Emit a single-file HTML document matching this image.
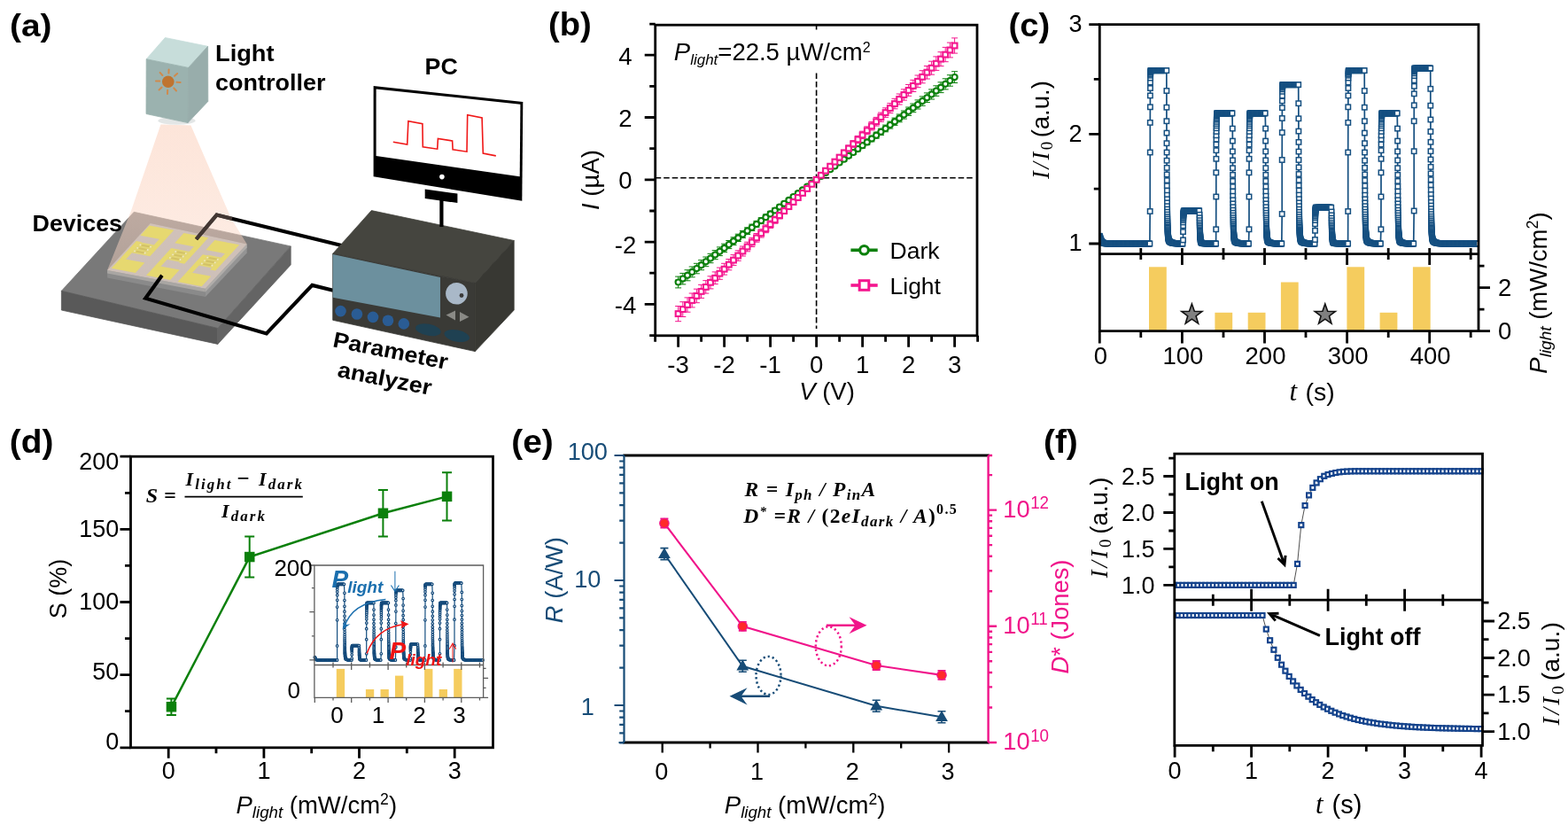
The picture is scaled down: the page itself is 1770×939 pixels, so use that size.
<!DOCTYPE html>
<html lang="en">
<head>
<meta charset="utf-8">
<title>Photodetector figure</title>
<style>
html,body{margin:0;padding:0;background:#fff;}
body{width:1770px;height:939px;overflow:hidden;}
svg{display:block;font-family:'Liberation Sans', sans-serif;}
</style>
</head>
<body>
<svg width="1770" height="939" viewBox="0 0 1770 939">
<defs>
<linearGradient id="cone" x1="0" y1="140" x2="0" y2="326" gradientUnits="userSpaceOnUse"><stop offset="0" stop-color="#fbd3c0" stop-opacity="0.42"/><stop offset="1" stop-color="#fbd3c0" stop-opacity="0.25"/></linearGradient>
<linearGradient id="cone2" x1="0" y1="140" x2="0" y2="326" gradientUnits="userSpaceOnUse"><stop offset="0" stop-color="#fcd9c8" stop-opacity="0.4"/><stop offset="1" stop-color="#fcd9c8" stop-opacity="0.2"/></linearGradient>
<marker id="sqs" markerWidth="8" markerHeight="8" refX="4" refY="4" markerUnits="userSpaceOnUse"><rect x="1.3" y="1.3" width="5.4" height="5.4" fill="#fff" stroke="#154f80" stroke-width="1.5"/></marker>
<clipPath id="cc"><rect x="1241.3" y="20" width="428.5" height="275"/></clipPath>
<marker id="cid" markerWidth="5" markerHeight="5" refX="2.5" refY="2.5" markerUnits="userSpaceOnUse"><circle cx="2.5" cy="2.5" r="1.3" fill="#fff" stroke="#0f4678" stroke-width="1.15"/></marker>
<marker id="sqf" markerWidth="8" markerHeight="8" refX="4" refY="4" markerUnits="userSpaceOnUse"><rect x="1.5" y="1.5" width="5" height="5" fill="#fff" stroke="#14438c" stroke-width="2.2"/></marker>
</defs>
<rect width="1770" height="939" fill="#fff"/>
<g id="pa">
<polygon points="69.4,328.3 151.2,239.3 328.2,277.9 245.8,370.5" fill="#797979" stroke="#797979" stroke-width="0.8"/>
<polygon points="69.4,328.3 245.8,370.5 245.8,388.4 69.4,350" fill="#595959" stroke="#595959" stroke-width="0.8"/>
<polygon points="245.8,370.5 328.2,277.9 328.2,298.9 245.8,388.4" fill="#646464" stroke="#646464" stroke-width="0.8"/>
<polygon points="121.1,305 231.8,325.8 231.8,335 121.1,313.5" fill="#8a8a8a"/>
<polygon points="231.8,325.8 278.7,275.4 278.7,285.5 231.8,335" fill="#949494"/>
<polygon points="121.1,305 231.8,325.8 231.8,329.5 121.1,308.5" fill="#a9a6a3"/>
<polygon points="231.8,325.8 278.7,275.4 278.7,279.5 231.8,329.5" fill="#b0adaa"/>
<polygon points="121.1,305 169.7,252 278.7,275.4 231.8,325.8" fill="#bdb9b6"/>
<polygon points="181.5,140.5 215.4,141.5 261,246.7 278.7,275.4 231.8,325.8 121.1,305 148,238" fill="url(#cone)"/>
<polygon points="181.5,140.5 215.4,141.5 261,246.7 278.7,275.4 169.7,252 121.1,305 148,238" fill="url(#cone2)"/>
<polygon points="158.4,265.7 186.1,270.9 196.3,259.8 168.6,254.6" fill="#e6d870"/>
<polygon points="125.7,302.8 152.9,307.9 163.3,296.5 136.2,291.4" fill="#e6d870"/>
<polygon points="163.2,288.1 169.3,289.2 186.3,270.7 180.2,269.5" fill="#e6d870"/>
<polygon points="135.9,291.6 142,292.8 160,273.2 153.9,272" fill="#e6d870"/>
<polygon points="148.3,285.3 163.8,288.2 174.5,276.5 159,273.6" fill="#e2d577"/>
<polygon points="152.8,284.6 161.7,286.2 163.4,284.4 154.5,282.7" fill="#d3c266"/>
<circle cx="152" cy="283.3" r="0.9" fill="#efe9c8"/>
<circle cx="163.7" cy="285.5" r="0.9" fill="#efe9c8"/>
<polygon points="156,281.1 164.8,282.8 166.5,280.9 157.7,279.3" fill="#d3c266"/>
<circle cx="155.2" cy="279.8" r="0.9" fill="#efe9c8"/>
<circle cx="166.8" cy="282" r="0.9" fill="#efe9c8"/>
<polygon points="159.1,277.7 168,279.3 169.7,277.5 160.8,275.8" fill="#d3c266"/>
<circle cx="158.4" cy="276.4" r="0.9" fill="#efe9c8"/>
<circle cx="170" cy="278.6" r="0.9" fill="#efe9c8"/>
<polygon points="197.3,274.3 225,279.5 235.2,268.3 207.5,263.1" fill="#e6d870"/>
<polygon points="165.1,310.8 192.2,315.9 202.7,304.5 175.6,299.4" fill="#e6d870"/>
<polygon points="202.1,296.6 208.2,297.8 225.2,279.2 219.1,278.1" fill="#e6d870"/>
<polygon points="175.3,299.7 181.4,300.8 199.4,281.2 193.3,280" fill="#e6d870"/>
<polygon points="188.1,292.7 203.6,295.7 214.3,284 198.8,281.1" fill="#e2d577"/>
<polygon points="192.7,292 201.5,293.7 203.2,291.9 194.4,290.2" fill="#d3c266"/>
<circle cx="191.9" cy="290.8" r="0.9" fill="#efe9c8"/>
<circle cx="203.5" cy="293" r="0.9" fill="#efe9c8"/>
<polygon points="195.8,288.6 204.7,290.3 206.4,288.4 197.5,286.7" fill="#d3c266"/>
<circle cx="195.1" cy="287.3" r="0.9" fill="#efe9c8"/>
<circle cx="206.7" cy="289.5" r="0.9" fill="#efe9c8"/>
<polygon points="199,285.2 207.9,286.8 209.6,285 200.7,283.3" fill="#d3c266"/>
<circle cx="198.2" cy="283.9" r="0.9" fill="#efe9c8"/>
<circle cx="209.8" cy="286.1" r="0.9" fill="#efe9c8"/>
<polygon points="232.3,282.1 260,287.3 270.2,276.2 242.5,271" fill="#e6d870"/>
<polygon points="200.6,318.1 227.7,323.2 238.2,311.8 211.1,306.7" fill="#e6d870"/>
<polygon points="237.1,304.4 243.2,305.6 260.2,287 254.1,285.9" fill="#e6d870"/>
<polygon points="210.8,306.9 216.9,308.1 234.9,288.5 228.8,287.3" fill="#e6d870"/>
<polygon points="224.1,299.5 239.6,302.4 250.3,290.8 234.8,287.8" fill="#e2d577"/>
<polygon points="228.7,298.8 237.5,300.5 239.2,298.6 230.4,296.9" fill="#d3c266"/>
<circle cx="227.9" cy="297.5" r="0.9" fill="#efe9c8"/>
<circle cx="239.5" cy="299.7" r="0.9" fill="#efe9c8"/>
<polygon points="231.8,295.4 240.7,297 242.4,295.2 233.5,293.5" fill="#d3c266"/>
<circle cx="231" cy="294.1" r="0.9" fill="#efe9c8"/>
<circle cx="242.7" cy="296.3" r="0.9" fill="#efe9c8"/>
<polygon points="235,291.9 243.8,293.6 245.5,291.7 236.7,290.1" fill="#d3c266"/>
<circle cx="234.2" cy="290.6" r="0.9" fill="#efe9c8"/>
<circle cx="245.8" cy="292.8" r="0.9" fill="#efe9c8"/>
<polyline points="221.5,270 244.6,242.6 386.5,277.2" fill="none" stroke="#000" stroke-width="4.1" stroke-linejoin="miter"/>
<polyline points="221.5,270 244.6,242.6 262,246.8" fill="none" stroke="#5a4a44" stroke-width="4.1" stroke-linejoin="miter" opacity="0.75"/>
<polyline points="182.9,310.7 164.2,336.7 300.8,376.4 352.4,321.9 376,327.8" fill="none" stroke="#000" stroke-width="4.1" stroke-linejoin="miter"/>
<ellipse cx="199.5" cy="136.2" rx="21" ry="4.6" fill="#e3e6e6"/>
<polygon points="165.2,66.7 186.4,42.5 234.6,52.3 212.6,76.4" fill="#c7ddda" stroke="#c7ddda" stroke-width="0.8"/>
<polygon points="165.2,66.7 212.6,76.4 212,138.6 165,128.5" fill="#9bb2af" stroke="#9bb2af" stroke-width="0.8"/>
<polygon points="212.6,76.4 234.6,52.3 234.8,114.4 212,138.6" fill="#98adab" stroke="#98adab" stroke-width="0.8"/>
<g stroke="#d08a4c" stroke-width="2" stroke-linecap="round">
<line x1="189.2" y1="101.8" x2="189" y2="106"/>
<line x1="182.6" y1="98.6" x2="179.5" y2="101.4"/>
<line x1="180.2" y1="91.6" x2="176" y2="91.4"/>
<line x1="183.4" y1="85" x2="180.6" y2="81.9"/>
<line x1="190.4" y1="82.6" x2="190.6" y2="78.4"/>
<line x1="197" y1="85.8" x2="200.1" y2="83"/>
<line x1="199.4" y1="92.8" x2="203.6" y2="93"/>
<line x1="196.2" y1="99.4" x2="199" y2="102.5"/>
</g>
<circle cx="189.8" cy="92.2" r="6.8" fill="#bf7430"/>
<polygon points="375.7,286.3 419.3,237.6 580.2,271.5 536.3,319.6" fill="#45453f" stroke="#45453f" stroke-width="0.8"/>
<polygon points="375.7,286.3 536.3,319.6 536.3,396.6 375.7,361.3" fill="#3a3a36" stroke="#3a3a36" stroke-width="0.8"/>
<polygon points="536.3,319.6 580.2,271.5 580.2,350 536.3,396.6" fill="#383833" stroke="#383833" stroke-width="0.8"/>
<polygon points="375.7,287 497,313 497,358.6 375.7,335.7" fill="#6c909e"/>
<circle cx="515.4" cy="331.3" r="12.3" fill="#a9b8c8"/>
<circle cx="521" cy="333.5" r="2.4" fill="#3a3a3a"/>
<polygon points="503.5,355.5 514,350.6 514,361.5" fill="#8a8a86"/>
<polygon points="529.5,357.8 519,352 519,363" fill="#8a8a86"/>
<circle cx="384.5" cy="351.1" r="6.3" fill="#2a5c94"/>
<circle cx="402.9" cy="354.5" r="6.3" fill="#2a5c94"/>
<circle cx="421" cy="357.9" r="6.3" fill="#2a5c94"/>
<circle cx="438" cy="361.7" r="6.3" fill="#2a5c94"/>
<circle cx="455.8" cy="365.4" r="6.3" fill="#2a5c94"/>
<ellipse cx="483.4" cy="372.2" rx="14.5" ry="6.5" fill="#1f4152" transform="rotate(11 483.4 372.2)"/>
<ellipse cx="515.7" cy="379" rx="14.5" ry="6.5" fill="#1f4152" transform="rotate(11 515.7 379)"/>
<line x1="498.4" y1="222" x2="498.4" y2="256" stroke="#000" stroke-width="4.2"/>
<polygon points="479.7,213.6 516.4,218.6 516.4,229 479.7,224" fill="#000"/>
<polygon points="421.6,96.9 590.3,115 589.3,226.7 421.6,199.3" fill="#000"/>
<polygon points="424.6,100.4 587.4,117.8 586.7,199.3 424.6,175.9" fill="#fff"/>
<circle cx="498.9" cy="199.6" r="2.8" fill="#fff"/>
<polyline points="443.8,160.2 459.7,163 460.9,136.8 476.9,139.6 477.3,165.8 493.7,168.2 494.4,156.4 510.6,159 511.1,168.9 527,171.2 527.7,129.7 544.1,133 545.3,173.1 559.8,175.9" fill="none" stroke="#f01818" stroke-width="1.6"/>
<text transform="translate(11 40.8) scale(1.08 1)" font-size="36" font-weight="bold">(a)</text>
<text transform="translate(243 69) scale(1.09 1)" font-size="25" font-weight="bold">Light</text>
<text transform="translate(243 102) scale(1.08 1)" font-size="25" font-weight="bold">controller</text>
<text transform="translate(479.6 84) scale(1.07 1)" font-size="25" font-weight="bold">PC</text>
<text transform="translate(36.5 261.3) scale(1.075 1)" font-size="25" font-weight="bold">Devices</text>
<text transform="translate(374.8 391.2) rotate(11.3) scale(1.075 1)" font-size="25" font-weight="bold">Parameter</text>
<text transform="translate(380 425) rotate(11.3) scale(1.075 1)" font-size="25" font-weight="bold">analyzer</text>
</g>
<g id="pb">
<line x1="739.7" y1="200.8" x2="1099" y2="200.8" stroke="#000" stroke-width="1.6" stroke-dasharray="6.5 3"/>
<line x1="921.6" y1="82.5" x2="921.6" y2="371" stroke="#000" stroke-width="1.6" stroke-dasharray="6.5 3"/>
<line x1="921.6" y1="29" x2="921.6" y2="33.5" stroke="#000" stroke-width="1.6"/>
<path d="M765.6 312.1V324.9M762.1 312.1h7M762.1 324.9h7M770.8 308.4V320.9M767.3 308.4h7M767.3 320.9h7M776 304.7V316.8M772.5 304.7h7M772.5 316.8h7M781.2 301V312.8M777.7 301h7M777.7 312.8h7M786.4 297.3V308.8M782.9 297.3h7M782.9 308.8h7M791.6 293.6V304.7M788.1 293.6h7M788.1 304.7h7M796.8 290V300.7M793.3 290h7M793.3 300.7h7M802 286.3V296.7M798.5 286.3h7M798.5 296.7h7M807.2 282.6V292.7M803.7 282.6h7M803.7 292.7h7M812.4 278.9V288.6M808.9 278.9h7M808.9 288.6h7M817.6 275.2V284.6M814.1 275.2h7M814.1 284.6h7M822.8 271.5V280.6M819.3 271.5h7M819.3 280.6h7M828 267.8V276.6M824.5 267.8h7M824.5 276.6h7M833.2 264.2V272.5M829.7 264.2h7M829.7 272.5h7M838.4 260.5V268.5M834.9 260.5h7M834.9 268.5h7M843.6 256.8V264.5M840.1 256.8h7M840.1 264.5h7M848.8 253.1V260.5M845.3 253.1h7M845.3 260.5h7M854 249.4V256.4M850.5 249.4h7M850.5 256.4h7M859.2 245.7V252.4M855.7 245.7h7M855.7 252.4h7M864.4 242V248.4M860.9 242h7M860.9 248.4h7M869.6 238.4V244.4M866.1 238.4h7M866.1 244.4h7M874.8 234.7V240.3M871.3 234.7h7M871.3 240.3h7M880 231V236.3M876.5 231h7M876.5 236.3h7M885.2 227.3V232.3M881.7 227.3h7M881.7 232.3h7M890.4 223.6V228.3M886.9 223.6h7M886.9 228.3h7M895.6 219.9V224.2M892.1 219.9h7M892.1 224.2h7M900.8 216.2V220.2M897.3 216.2h7M897.3 220.2h7M906 212.6V216.2M902.5 212.6h7M902.5 216.2h7M911.2 208.9V212.2M907.7 208.9h7M907.7 212.2h7M916.4 205.2V208.1M912.9 205.2h7M912.9 208.1h7M921.6 201.5V204.1M918.1 201.5h7M918.1 204.1h7M926.8 197.5V200.4M923.3 197.5h7M923.3 200.4h7M932 193.4V196.7M928.5 193.4h7M928.5 196.7h7M937.2 189.4V193M933.7 189.4h7M933.7 193h7M942.4 185.4V189.4M938.9 185.4h7M938.9 189.4h7M947.6 181.4V185.7M944.1 181.4h7M944.1 185.7h7M952.8 177.3V182M949.3 177.3h7M949.3 182h7M958 173.3V178.3M954.5 173.3h7M954.5 178.3h7M963.2 169.3V174.6M959.7 169.3h7M959.7 174.6h7M968.4 165.3V170.9M964.9 165.3h7M964.9 170.9h7M973.6 161.2V167.2M970.1 161.2h7M970.1 167.2h7M978.8 157.2V163.6M975.3 157.2h7M975.3 163.6h7M984 153.2V159.9M980.5 153.2h7M980.5 159.9h7M989.2 149.2V156.2M985.7 149.2h7M985.7 156.2h7M994.4 145.1V152.5M990.9 145.1h7M990.9 152.5h7M999.6 141.1V148.8M996.1 141.1h7M996.1 148.8h7M1004.8 137.1V145.1M1001.3 137.1h7M1001.3 145.1h7M1010 133.1V141.4M1006.5 133.1h7M1006.5 141.4h7M1015.2 129V137.8M1011.7 129h7M1011.7 137.8h7M1020.4 125V134.1M1016.9 125h7M1016.9 134.1h7M1025.6 121V130.4M1022.1 121h7M1022.1 130.4h7M1030.8 117V126.7M1027.3 117h7M1027.3 126.7h7M1036 112.9V123M1032.5 112.9h7M1032.5 123h7M1041.2 108.9V119.3M1037.7 108.9h7M1037.7 119.3h7M1046.4 104.9V115.6M1042.9 104.9h7M1042.9 115.6h7M1051.6 100.9V112M1048.1 100.9h7M1048.1 112h7M1056.8 96.8V108.3M1053.3 96.8h7M1053.3 108.3h7M1062 92.8V104.6M1058.5 92.8h7M1058.5 104.6h7M1067.2 88.8V100.9M1063.7 88.8h7M1063.7 100.9h7M1072.4 84.7V97.2M1068.9 84.7h7M1068.9 97.2h7M1077.6 80.7V93.5M1074.1 80.7h7M1074.1 93.5h7" stroke="#0b800b" stroke-width="1" fill="none"/>
<polyline points="765.6,318.5 770.8,314.6 776,310.8 781.2,306.9 786.4,303.1 791.6,299.2 796.8,295.3 802,291.5 807.2,287.6 812.4,283.8 817.6,279.9 822.8,276.1 828,272.2 833.2,268.4 838.4,264.5 843.6,260.6 848.8,256.8 854,252.9 859.2,249.1 864.4,245.2 869.6,241.4 874.8,237.5 880,233.6 885.2,229.8 890.4,225.9 895.6,222.1 900.8,218.2 906,214.4 911.2,210.5 916.4,206.7 921.6,202.8 926.8,198.9 932,195.1 937.2,191.2 942.4,187.4 947.6,183.5 952.8,179.7 958,175.8 963.2,172 968.4,168.1 973.6,164.2 978.8,160.4 984,156.5 989.2,152.7 994.4,148.8 999.6,145 1004.8,141.1 1010,137.2 1015.2,133.4 1020.4,129.5 1025.6,125.7 1030.8,121.8 1036,118 1041.2,114.1 1046.4,110.3 1051.6,106.4 1056.8,102.5 1062,98.7 1067.2,94.8 1072.4,91 1077.6,87.1" fill="none" stroke="#0b800b" stroke-width="1.6"/>
<g fill="#fff" stroke="#0b800b" stroke-width="2.1"><circle cx="765.6" cy="318.5" r="3.05"/><circle cx="770.8" cy="314.6" r="3.05"/><circle cx="776" cy="310.8" r="3.05"/><circle cx="781.2" cy="306.9" r="3.05"/><circle cx="786.4" cy="303.1" r="3.05"/><circle cx="791.6" cy="299.2" r="3.05"/><circle cx="796.8" cy="295.3" r="3.05"/><circle cx="802" cy="291.5" r="3.05"/><circle cx="807.2" cy="287.6" r="3.05"/><circle cx="812.4" cy="283.8" r="3.05"/><circle cx="817.6" cy="279.9" r="3.05"/><circle cx="822.8" cy="276.1" r="3.05"/><circle cx="828" cy="272.2" r="3.05"/><circle cx="833.2" cy="268.4" r="3.05"/><circle cx="838.4" cy="264.5" r="3.05"/><circle cx="843.6" cy="260.6" r="3.05"/><circle cx="848.8" cy="256.8" r="3.05"/><circle cx="854" cy="252.9" r="3.05"/><circle cx="859.2" cy="249.1" r="3.05"/><circle cx="864.4" cy="245.2" r="3.05"/><circle cx="869.6" cy="241.4" r="3.05"/><circle cx="874.8" cy="237.5" r="3.05"/><circle cx="880" cy="233.6" r="3.05"/><circle cx="885.2" cy="229.8" r="3.05"/><circle cx="890.4" cy="225.9" r="3.05"/><circle cx="895.6" cy="222.1" r="3.05"/><circle cx="900.8" cy="218.2" r="3.05"/><circle cx="906" cy="214.4" r="3.05"/><circle cx="911.2" cy="210.5" r="3.05"/><circle cx="916.4" cy="206.7" r="3.05"/><circle cx="921.6" cy="202.8" r="3.05"/><circle cx="926.8" cy="198.9" r="3.05"/><circle cx="932" cy="195.1" r="3.05"/><circle cx="937.2" cy="191.2" r="3.05"/><circle cx="942.4" cy="187.4" r="3.05"/><circle cx="947.6" cy="183.5" r="3.05"/><circle cx="952.8" cy="179.7" r="3.05"/><circle cx="958" cy="175.8" r="3.05"/><circle cx="963.2" cy="172" r="3.05"/><circle cx="968.4" cy="168.1" r="3.05"/><circle cx="973.6" cy="164.2" r="3.05"/><circle cx="978.8" cy="160.4" r="3.05"/><circle cx="984" cy="156.5" r="3.05"/><circle cx="989.2" cy="152.7" r="3.05"/><circle cx="994.4" cy="148.8" r="3.05"/><circle cx="999.6" cy="145" r="3.05"/><circle cx="1004.8" cy="141.1" r="3.05"/><circle cx="1010" cy="137.2" r="3.05"/><circle cx="1015.2" cy="133.4" r="3.05"/><circle cx="1020.4" cy="129.5" r="3.05"/><circle cx="1025.6" cy="125.7" r="3.05"/><circle cx="1030.8" cy="121.8" r="3.05"/><circle cx="1036" cy="118" r="3.05"/><circle cx="1041.2" cy="114.1" r="3.05"/><circle cx="1046.4" cy="110.3" r="3.05"/><circle cx="1051.6" cy="106.4" r="3.05"/><circle cx="1056.8" cy="102.5" r="3.05"/><circle cx="1062" cy="98.7" r="3.05"/><circle cx="1067.2" cy="94.8" r="3.05"/><circle cx="1072.4" cy="91" r="3.05"/><circle cx="1077.6" cy="87.1" r="3.05"/></g>
<path d="M765.6 345.5V362.7M762.1 345.5h7M762.1 362.7h7M770.8 340.7V357.5M767.3 340.7h7M767.3 357.5h7M776 335.9V352.2M772.5 335.9h7M772.5 352.2h7M781.2 331V346.9M777.7 331h7M777.7 346.9h7M786.4 326.2V341.7M782.9 326.2h7M782.9 341.7h7M791.6 321.4V336.4M788.1 321.4h7M788.1 336.4h7M796.8 316.6V331.1M793.3 316.6h7M793.3 331.1h7M802 311.8V325.9M798.5 311.8h7M798.5 325.9h7M807.2 306.9V320.6M803.7 306.9h7M803.7 320.6h7M812.4 302.1V315.3M808.9 302.1h7M808.9 315.3h7M817.6 297.3V310.1M814.1 297.3h7M814.1 310.1h7M822.8 292.5V304.8M819.3 292.5h7M819.3 304.8h7M828 287.6V299.6M824.5 287.6h7M824.5 299.6h7M833.2 282.8V294.3M829.7 282.8h7M829.7 294.3h7M838.4 278V289M834.9 278h7M834.9 289h7M843.6 273.2V283.8M840.1 273.2h7M840.1 283.8h7M848.8 268.3V278.5M845.3 268.3h7M845.3 278.5h7M854 263.5V273.2M850.5 263.5h7M850.5 273.2h7M859.2 258.7V268M855.7 258.7h7M855.7 268h7M864.4 253.9V262.7M860.9 253.9h7M860.9 262.7h7M869.6 249V257.4M866.1 249h7M866.1 257.4h7M874.8 244.2V252.2M871.3 244.2h7M871.3 252.2h7M880 239.4V246.9M876.5 239.4h7M876.5 246.9h7M885.2 234.6V241.6M881.7 234.6h7M881.7 241.6h7M890.4 229.7V236.4M886.9 229.7h7M886.9 236.4h7M895.6 224.9V231.1M892.1 224.9h7M892.1 231.1h7M900.8 220.1V225.9M897.3 220.1h7M897.3 225.9h7M906 215.3V220.6M902.5 215.3h7M902.5 220.6h7M911.2 210.4V215.3M907.7 210.4h7M907.7 215.3h7M916.4 205.6V210.1M912.9 205.6h7M912.9 210.1h7M921.6 200.8V204.8M918.1 200.8h7M918.1 204.8h7M926.8 195.5V200M923.3 195.5h7M923.3 200h7M932 190.3V195.2M928.5 190.3h7M928.5 195.2h7M937.2 185V190.3M933.7 185h7M933.7 190.3h7M942.4 179.7V185.5M938.9 179.7h7M938.9 185.5h7M947.6 174.5V180.7M944.1 174.5h7M944.1 180.7h7M952.8 169.2V175.9M949.3 169.2h7M949.3 175.9h7M958 164V171M954.5 164h7M954.5 171h7M963.2 158.7V166.2M959.7 158.7h7M959.7 166.2h7M968.4 153.4V161.4M964.9 153.4h7M964.9 161.4h7M973.6 148.2V156.6M970.1 148.2h7M970.1 156.6h7M978.8 142.9V151.7M975.3 142.9h7M975.3 151.7h7M984 137.6V146.9M980.5 137.6h7M980.5 146.9h7M989.2 132.4V142.1M985.7 132.4h7M985.7 142.1h7M994.4 127.1V137.3M990.9 127.1h7M990.9 137.3h7M999.6 121.8V132.4M996.1 121.8h7M996.1 132.4h7M1004.8 116.6V127.6M1001.3 116.6h7M1001.3 127.6h7M1010 111.3V122.8M1006.5 111.3h7M1006.5 122.8h7M1015.2 106V118M1011.7 106h7M1011.7 118h7M1020.4 100.8V113.1M1016.9 100.8h7M1016.9 113.1h7M1025.6 95.5V108.3M1022.1 95.5h7M1022.1 108.3h7M1030.8 90.3V103.5M1027.3 90.3h7M1027.3 103.5h7M1036 85V98.7M1032.5 85h7M1032.5 98.7h7M1041.2 79.7V93.8M1037.7 79.7h7M1037.7 93.8h7M1046.4 74.5V89M1042.9 74.5h7M1042.9 89h7M1051.6 69.2V84.2M1048.1 69.2h7M1048.1 84.2h7M1056.8 63.9V79.4M1053.3 63.9h7M1053.3 79.4h7M1062 58.7V74.6M1058.5 58.7h7M1058.5 74.6h7M1067.2 53.4V69.7M1063.7 53.4h7M1063.7 69.7h7M1072.4 48.1V64.9M1068.9 48.1h7M1068.9 64.9h7M1077.6 42.9V60.1M1074.1 42.9h7M1074.1 60.1h7" stroke="#f4168e" stroke-width="1" fill="none"/>
<polyline points="765.6,354.1 770.8,349.1 776,344 781.2,339 786.4,333.9 791.6,328.9 796.8,323.9 802,318.8 807.2,313.8 812.4,308.7 817.6,303.7 822.8,298.6 828,293.6 833.2,288.5 838.4,283.5 843.6,278.5 848.8,273.4 854,268.4 859.2,263.3 864.4,258.3 869.6,253.2 874.8,248.2 880,243.2 885.2,238.1 890.4,233.1 895.6,228 900.8,223 906,217.9 911.2,212.9 916.4,207.8 921.6,202.8 926.8,197.8 932,192.7 937.2,187.7 942.4,182.6 947.6,177.6 952.8,172.5 958,167.5 963.2,162.4 968.4,157.4 973.6,152.4 978.8,147.3 984,142.3 989.2,137.2 994.4,132.2 999.6,127.1 1004.8,122.1 1010,117.1 1015.2,112 1020.4,107 1025.6,101.9 1030.8,96.9 1036,91.8 1041.2,86.8 1046.4,81.7 1051.6,76.7 1056.8,71.7 1062,66.6 1067.2,61.6 1072.4,56.5 1077.6,51.5" fill="none" stroke="#f4168e" stroke-width="1.6"/>
<g fill="#fff" stroke="#f4168e" stroke-width="2.1"><rect x="762.7" y="351.2" width="5.8" height="5.8"/><rect x="767.9" y="346.2" width="5.8" height="5.8"/><rect x="773.1" y="341.1" width="5.8" height="5.8"/><rect x="778.3" y="336.1" width="5.8" height="5.8"/><rect x="783.5" y="331" width="5.8" height="5.8"/><rect x="788.7" y="326" width="5.8" height="5.8"/><rect x="793.9" y="321" width="5.8" height="5.8"/><rect x="799.1" y="315.9" width="5.8" height="5.8"/><rect x="804.3" y="310.9" width="5.8" height="5.8"/><rect x="809.5" y="305.8" width="5.8" height="5.8"/><rect x="814.7" y="300.8" width="5.8" height="5.8"/><rect x="819.9" y="295.7" width="5.8" height="5.8"/><rect x="825.1" y="290.7" width="5.8" height="5.8"/><rect x="830.3" y="285.6" width="5.8" height="5.8"/><rect x="835.5" y="280.6" width="5.8" height="5.8"/><rect x="840.7" y="275.6" width="5.8" height="5.8"/><rect x="845.9" y="270.5" width="5.8" height="5.8"/><rect x="851.1" y="265.5" width="5.8" height="5.8"/><rect x="856.3" y="260.4" width="5.8" height="5.8"/><rect x="861.5" y="255.4" width="5.8" height="5.8"/><rect x="866.7" y="250.3" width="5.8" height="5.8"/><rect x="871.9" y="245.3" width="5.8" height="5.8"/><rect x="877.1" y="240.3" width="5.8" height="5.8"/><rect x="882.3" y="235.2" width="5.8" height="5.8"/><rect x="887.5" y="230.2" width="5.8" height="5.8"/><rect x="892.7" y="225.1" width="5.8" height="5.8"/><rect x="897.9" y="220.1" width="5.8" height="5.8"/><rect x="903.1" y="215" width="5.8" height="5.8"/><rect x="908.3" y="210" width="5.8" height="5.8"/><rect x="913.5" y="204.9" width="5.8" height="5.8"/><rect x="918.7" y="199.9" width="5.8" height="5.8"/><rect x="923.9" y="194.9" width="5.8" height="5.8"/><rect x="929.1" y="189.8" width="5.8" height="5.8"/><rect x="934.3" y="184.8" width="5.8" height="5.8"/><rect x="939.5" y="179.7" width="5.8" height="5.8"/><rect x="944.7" y="174.7" width="5.8" height="5.8"/><rect x="949.9" y="169.6" width="5.8" height="5.8"/><rect x="955.1" y="164.6" width="5.8" height="5.8"/><rect x="960.3" y="159.5" width="5.8" height="5.8"/><rect x="965.5" y="154.5" width="5.8" height="5.8"/><rect x="970.7" y="149.5" width="5.8" height="5.8"/><rect x="975.9" y="144.4" width="5.8" height="5.8"/><rect x="981.1" y="139.4" width="5.8" height="5.8"/><rect x="986.3" y="134.3" width="5.8" height="5.8"/><rect x="991.5" y="129.3" width="5.8" height="5.8"/><rect x="996.7" y="124.2" width="5.8" height="5.8"/><rect x="1001.9" y="119.2" width="5.8" height="5.8"/><rect x="1007.1" y="114.2" width="5.8" height="5.8"/><rect x="1012.3" y="109.1" width="5.8" height="5.8"/><rect x="1017.5" y="104.1" width="5.8" height="5.8"/><rect x="1022.7" y="99" width="5.8" height="5.8"/><rect x="1027.9" y="94" width="5.8" height="5.8"/><rect x="1033.1" y="88.9" width="5.8" height="5.8"/><rect x="1038.3" y="83.9" width="5.8" height="5.8"/><rect x="1043.5" y="78.8" width="5.8" height="5.8"/><rect x="1048.7" y="73.8" width="5.8" height="5.8"/><rect x="1053.9" y="68.8" width="5.8" height="5.8"/><rect x="1059.1" y="63.7" width="5.8" height="5.8"/><rect x="1064.3" y="58.7" width="5.8" height="5.8"/><rect x="1069.5" y="53.6" width="5.8" height="5.8"/><rect x="1074.7" y="48.6" width="5.8" height="5.8"/></g>
<rect x="739.7" y="28.2" width="363.3" height="350.6" fill="none" stroke="#000" stroke-width="2.8"/>
<path d="M739.7 378.6h-6.5M739.7 343.4h-12M739.7 308.2h-6.5M739.7 273.1h-12M739.7 238h-6.5M739.7 202.8h-12M739.7 167.7h-6.5M739.7 132.5h-12M739.7 97.4h-6.5M739.7 62.2h-12M739.7 27.1h-6.5M739.6 378.8v7M765.6 378.8v13M791.6 378.8v7M817.6 378.8v13M843.6 378.8v7M869.6 378.8v13M895.6 378.8v7M921.6 378.8v13M947.6 378.8v7M973.6 378.8v13M999.6 378.8v7M1025.6 378.8v13M1051.6 378.8v7M1077.6 378.8v13M1103.6 378.8v7" stroke="#000" stroke-width="2.8" fill="none"/>
<text x="706" y="353.7" font-size="27.5" text-anchor="middle">-4</text>
<text x="706" y="285.7" font-size="27.5" text-anchor="middle">-2</text>
<text x="706" y="213.1" font-size="27.5" text-anchor="middle">0</text>
<text x="706" y="142.8" font-size="27.5" text-anchor="middle">2</text>
<text x="706" y="72.5" font-size="27.5" text-anchor="middle">4</text>
<text x="765.6" y="420.5" font-size="27.5" text-anchor="middle">-3</text>
<text x="817.6" y="420.5" font-size="27.5" text-anchor="middle">-2</text>
<text x="869.6" y="420.5" font-size="27.5" text-anchor="middle">-1</text>
<text x="921.6" y="420.5" font-size="27.5" text-anchor="middle">0</text>
<text x="973.6" y="420.5" font-size="27.5" text-anchor="middle">1</text>
<text x="1025.6" y="420.5" font-size="27.5" text-anchor="middle">2</text>
<text x="1077.6" y="420.5" font-size="27.5" text-anchor="middle">3</text>
<text x="933.5" y="451.3" font-size="27.5" text-anchor="middle"><tspan font-style="italic">V</tspan> (V)</text>
<text x="675.5" y="203" font-size="27.5" text-anchor="middle" transform="rotate(-90 675.5 203)"><tspan font-style="italic">I</tspan> (µA)</text>
<text x="760.8" y="68.2" font-size="27.5"><tspan font-style="italic">P</tspan><tspan font-style="italic" font-size="17" dy="5">light</tspan><tspan dy="-5">=22.5 µW/cm</tspan><tspan font-size="16" dy="-9">2</tspan></text>
<line x1="960.4" y1="282.3" x2="990.7" y2="282.3" stroke="#0b800b" stroke-width="3.6"/>
<circle cx="975.5" cy="282.3" r="4.8" fill="#fff" stroke="#0b800b" stroke-width="3"/>
<text x="1004.5" y="291.9" font-size="26.5">Dark</text>
<line x1="960.4" y1="322" x2="990.7" y2="322" stroke="#f4168e" stroke-width="3.6"/>
<rect x="970.2" y="316.7" width="10.6" height="10.6" fill="#fff" stroke="#f4168e" stroke-width="3"/>
<text x="1004.5" y="331.6" font-size="26.5">Light</text>
<text transform="translate(619 40.3) scale(1.06 1)" font-size="36" font-weight="bold">(b)</text>
</g>
<g id="pc">
<rect x="1297" y="301.3" width="19.8" height="72.3" fill="#f5cc5e"/>
<rect x="1334.2" y="372.9" width="19.8" height="0.7" fill="#f5cc5e"/>
<rect x="1371.4" y="352.8" width="19.8" height="20.8" fill="#f5cc5e"/>
<rect x="1408.7" y="352.8" width="19.8" height="20.8" fill="#f5cc5e"/>
<rect x="1445.9" y="318.5" width="19.8" height="55.1" fill="#f5cc5e"/>
<rect x="1483.2" y="372.9" width="19.8" height="0.7" fill="#f5cc5e"/>
<rect x="1520.4" y="301.3" width="19.8" height="72.3" fill="#f5cc5e"/>
<rect x="1557.6" y="352.8" width="19.8" height="20.8" fill="#f5cc5e"/>
<rect x="1594.9" y="301.3" width="19.8" height="72.3" fill="#f5cc5e"/>
<polygon points="1345.4,343 1348.3,351.2 1357,351.4 1350.1,356.7 1352.6,365.1 1345.4,360.1 1338.2,365.1 1340.7,356.7 1333.8,351.4 1342.5,351.2" fill="#808080" stroke="#111" stroke-width="1.6" stroke-linejoin="miter"/>
<polygon points="1495.8,343 1498.7,351.2 1507.4,351.4 1500.5,356.7 1503,365.1 1495.8,360.1 1488.6,365.1 1491.1,356.7 1484.2,351.4 1492.9,351.2" fill="#808080" stroke="#111" stroke-width="1.6" stroke-linejoin="miter"/>
<defs><polyline id="cdat" points="1241.3,266.3 1241.4,267 1241.6,267.5 1241.7,268.1 1241.9,268.7 1242.1,269.3 1242.3,269.9 1242.5,270.5 1242.7,271 1243,271.6 1243.3,272 1243.6,272.5 1244,273 1244.4,273.4 1244.9,273.7 1245.4,274 1245.9,274.3 1246.5,274.5 1247,274.6 1247.6,274.7 1248.1,274.8 1248.7,274.8 1249.3,274.9 1249.8,274.9 1250.4,274.9 1250.9,275 1251.5,275 1252.1,275 1252.6,275 1253.2,275 1253.7,275 1254.3,275 1254.8,275 1255.4,275 1256,275 1256.5,275 1257.1,275 1257.6,275 1258.2,275 1258.8,275 1259.3,275 1259.9,275 1260.4,275 1261,275 1261.5,275 1262.1,275 1262.7,275 1263.2,275 1263.8,275 1264.3,275 1264.9,275 1265.5,275 1266,275 1266.6,275 1267.1,275 1267.7,275 1268.3,275 1268.8,275 1269.4,275 1269.9,275 1270.5,275 1271,275 1271.6,275 1272.2,275 1272.7,275 1273.3,275 1273.8,275 1274.4,275 1275,275 1275.5,275 1276.1,275 1276.6,275 1277.2,275 1277.7,275 1278.3,275 1278.9,275 1279.4,275 1280,275 1280.5,275 1281.1,275 1281.7,275 1282.2,275 1282.8,275 1283.3,275 1283.9,275 1284.5,275 1285,275 1285.6,275 1286.1,275 1286.7,275 1287.2,275 1287.8,275 1288.4,275 1288.9,275 1289.5,275 1290,275 1290.6,275 1291.2,275 1291.7,275 1292.3,275 1292.8,275 1293.4,275 1293.9,275 1294.5,275 1295.1,275 1295.6,275 1296.2,275 1296.7,275 1297.3,275 1297.9,275 1298.2,238.5 1298.3,172 1298.3,138.4 1298.4,120.8 1298.4,107.9 1298.5,99.5 1298.5,93 1298.6,88 1298.6,85.2 1298.6,83.5 1298.7,82.1 1298.7,81.1 1298.8,80.3 1298.9,79.6 1299.4,79.6 1300,79.6 1300.6,79.6 1301.1,79.6 1301.7,79.6 1302.2,79.6 1302.8,79.6 1303.4,79.6 1303.9,79.6 1304.5,79.6 1305,79.6 1305.6,79.6 1306.1,79.6 1306.7,79.6 1307.3,79.6 1307.8,79.6 1308.4,79.6 1308.9,79.6 1309.5,79.6 1310.1,79.6 1310.6,79.6 1311.2,79.6 1311.7,79.6 1312.3,79.6 1312.8,79.6 1313.4,79.6 1314,79.6 1314.5,79.6 1315.1,79.6 1315.6,79.6 1316.2,79.6 1316.8,79.6 1316.9,102.5 1316.9,121.2 1316.9,136.7 1317,150.1 1317,161.7 1317.1,172 1317.1,181.2 1317.2,189.4 1317.2,196.9 1317.3,203.6 1317.3,209.7 1317.4,215.2 1317.4,220.2 1317.5,224.8 1317.5,228.9 1317.5,232.7 1317.6,236.1 1317.6,239.2 1317.7,242.1 1317.7,244.7 1317.8,247 1317.8,249.2 1317.9,251.2 1317.9,253 1318,254.6 1318,256.1 1318.1,257.4 1318.1,258.7 1318.2,259.8 1318.2,260.8 1318.2,261.8 1318.3,262.7 1318.3,263.4 1318.4,264.2 1318.4,264.8 1318.5,265.4 1318.5,266 1318.6,267 1318.7,267.8 1318.8,268.5 1318.9,269.1 1319,269.8 1319.2,270.4 1319.4,271 1319.6,271.5 1319.9,272 1320.2,272.5 1320.7,272.8 1321.1,273.2 1321.6,273.4 1322.2,273.7 1322.7,273.9 1323.3,274.1 1323.8,274.2 1324.4,274.3 1325,274.4 1325.5,274.5 1326.1,274.6 1326.6,274.7 1327.2,274.7 1327.7,274.8 1328.3,274.8 1328.9,274.8 1329.4,274.9 1330,274.9 1330.5,274.9 1331.1,274.9 1331.7,274.9 1332.2,274.9 1332.8,274.9 1333.3,275 1333.9,275 1334.4,275 1335,275 1335.5,270.9 1335.5,261.6 1335.6,254.8 1335.6,250.9 1335.7,248.5 1335.7,246.8 1335.7,245.3 1335.8,244.2 1335.8,243.1 1335.9,242.2 1335.9,241.4 1336,240.9 1336,240.3 1336.1,239.7 1336.2,239 1336.3,238.4 1336.4,237.9 1337,237.9 1337.5,237.9 1338.1,237.9 1338.6,237.9 1339.2,237.9 1339.8,237.9 1340.3,237.9 1340.9,237.9 1341.4,237.9 1342,237.9 1342.5,237.9 1343.1,237.9 1343.7,237.9 1344.2,237.9 1344.8,237.9 1345.3,237.9 1345.9,237.9 1346.5,237.9 1347,237.9 1347.6,237.9 1348.1,237.9 1348.7,237.9 1349.2,237.9 1349.8,237.9 1350.4,237.9 1350.9,237.9 1351.5,237.9 1352,237.9 1352.6,237.9 1353.2,237.9 1353.7,237.9 1354.1,242.3 1354.1,245.8 1354.2,248.7 1354.2,251.3 1354.3,253.5 1354.3,255.4 1354.4,257.2 1354.4,258.8 1354.5,260.2 1354.5,261.4 1354.6,262.6 1354.6,263.6 1354.6,264.6 1354.7,265.5 1354.7,266.2 1354.8,267 1354.8,267.6 1354.9,268.2 1355,269.2 1355.1,270.1 1355.2,270.8 1355.3,271.4 1355.4,272.1 1355.5,272.7 1355.7,273.2 1356,273.7 1356.4,274.1 1356.9,274.4 1357.5,274.5 1358,274.6 1358.6,274.7 1359.2,274.7 1359.7,274.8 1360.3,274.8 1360.8,274.8 1361.4,274.9 1362,274.9 1362.5,274.9 1363.1,274.9 1363.6,274.9 1364.2,274.9 1364.8,275 1365.3,275 1365.9,275 1366.4,275 1367,275 1367.5,275 1368.1,275 1368.7,275 1369.2,275 1369.8,275 1370.3,275 1370.9,275 1371.5,275 1372,275 1372.6,275 1372.7,258.8 1372.8,222 1372.8,194.8 1372.9,179.3 1372.9,169.7 1372.9,163.1 1373,157.2 1373,152.8 1373.1,148.4 1373.1,144.7 1373.2,141.8 1373.2,139.6 1373.3,137.4 1373.3,135.2 1373.4,133.7 1373.4,132.2 1373.5,130.7 1373.5,130 1373.5,129.3 1373.6,128.5 1373.6,127.8 1374.2,127.8 1374.8,127.8 1375.3,127.8 1375.9,127.8 1376.4,127.8 1377,127.8 1377.6,127.8 1378.1,127.8 1378.7,127.8 1379.2,127.8 1379.8,127.8 1380.3,127.8 1380.9,127.8 1381.5,127.8 1382,127.8 1382.6,127.8 1383.1,127.8 1383.7,127.8 1384.3,127.8 1384.8,127.8 1385.4,127.8 1385.9,127.8 1386.5,127.8 1387,127.8 1387.6,127.8 1388.2,127.8 1388.7,127.8 1389.3,127.8 1389.8,127.8 1390.4,127.8 1391,127.8 1391.3,145.1 1391.4,159.1 1391.4,170.9 1391.5,180.9 1391.5,189.7 1391.6,197.4 1391.6,204.4 1391.7,210.6 1391.7,216.1 1391.7,221.2 1391.8,225.8 1391.8,229.9 1391.9,233.7 1391.9,237.2 1392,240.3 1392,243.1 1392.1,245.7 1392.1,248.1 1392.2,250.2 1392.2,252.2 1392.3,253.9 1392.3,255.6 1392.4,257 1392.4,258.4 1392.4,259.6 1392.5,260.7 1392.5,261.8 1392.6,262.7 1392.6,263.6 1392.7,264.3 1392.7,265.1 1392.8,265.7 1392.8,266.3 1392.9,267.3 1393,268.2 1393.1,269 1393.2,269.6 1393.3,270.3 1393.5,270.9 1393.7,271.5 1393.9,272.1 1394.2,272.6 1394.6,273 1395.1,273.4 1395.6,273.6 1396.1,273.8 1396.7,274 1397.2,274.2 1397.8,274.3 1398.4,274.4 1398.9,274.5 1399.5,274.6 1400,274.6 1400.6,274.7 1401.2,274.8 1401.7,274.8 1402.3,274.8 1402.8,274.9 1403.4,274.9 1403.9,274.9 1404.5,274.9 1405.1,274.9 1405.6,274.9 1406.2,274.9 1406.7,275 1407.3,275 1407.9,275 1408.4,275 1409,275 1409.5,275 1410,258.8 1410,222 1410,194.8 1410.1,179.3 1410.1,169.7 1410.2,163.1 1410.2,157.2 1410.3,152.8 1410.3,148.4 1410.4,144.7 1410.4,141.8 1410.5,139.6 1410.5,137.4 1410.6,135.2 1410.6,133.7 1410.6,132.2 1410.7,130.7 1410.7,130 1410.8,129.3 1410.8,128.5 1410.9,127.8 1411.4,127.8 1412,127.8 1412.6,127.8 1413.1,127.8 1413.7,127.8 1414.2,127.8 1414.8,127.8 1415.4,127.8 1415.9,127.8 1416.5,127.8 1417,127.8 1417.6,127.8 1418.1,127.8 1418.7,127.8 1419.3,127.8 1419.8,127.8 1420.4,127.8 1420.9,127.8 1421.5,127.8 1422.1,127.8 1422.6,127.8 1423.2,127.8 1423.7,127.8 1424.3,127.8 1424.8,127.8 1425.4,127.8 1426,127.8 1426.5,127.8 1427.1,127.8 1427.6,127.8 1428.2,127.8 1428.6,145.1 1428.6,159.1 1428.7,170.9 1428.7,180.9 1428.8,189.7 1428.8,197.4 1428.8,204.4 1428.9,210.6 1428.9,216.1 1429,221.2 1429,225.8 1429.1,229.9 1429.1,233.7 1429.2,237.2 1429.2,240.3 1429.3,243.1 1429.3,245.7 1429.4,248.1 1429.4,250.2 1429.5,252.2 1429.5,253.9 1429.5,255.6 1429.6,257 1429.6,258.4 1429.7,259.6 1429.7,260.7 1429.8,261.8 1429.8,262.7 1429.9,263.6 1429.9,264.3 1430,265.1 1430,265.7 1430.1,266.3 1430.2,267.3 1430.2,268.2 1430.3,269 1430.4,269.6 1430.6,270.3 1430.7,270.9 1430.9,271.5 1431.1,272.1 1431.5,272.6 1431.9,273 1432.3,273.4 1432.9,273.6 1433.4,273.8 1433.9,274 1434.5,274.2 1435,274.3 1435.6,274.4 1436.2,274.5 1436.7,274.6 1437.3,274.6 1437.8,274.7 1438.4,274.8 1439,274.8 1439.5,274.8 1440.1,274.9 1440.6,274.9 1441.2,274.9 1441.7,274.9 1442.3,274.9 1442.9,274.9 1443.4,274.9 1444,275 1444.5,275 1445.1,275 1445.7,275 1446.2,275 1446.8,275 1447.2,241.5 1447.2,180.5 1447.3,149.6 1447.3,133.5 1447.4,121.6 1447.4,113.9 1447.5,108 1447.5,103.3 1447.6,100.8 1447.6,99.2 1447.7,98 1447.7,97.1 1447.7,96.4 1447.8,95.6 1448.4,95.6 1449,95.6 1449.5,95.6 1450.1,95.6 1450.6,95.6 1451.2,95.6 1451.8,95.6 1452.3,95.6 1452.9,95.6 1453.4,95.6 1454,95.6 1454.5,95.6 1455.1,95.6 1455.7,95.6 1456.2,95.6 1456.8,95.6 1457.3,95.6 1457.9,95.6 1458.5,95.6 1459,95.6 1459.6,95.6 1460.1,95.6 1460.7,95.6 1461.2,95.6 1461.8,95.6 1462.4,95.6 1462.9,95.6 1463.5,95.6 1464,95.6 1464.6,95.6 1465.2,95.6 1465.7,95.6 1465.8,116.7 1465.9,133.8 1465.9,148.1 1466,160.4 1466,171.1 1466,180.5 1466.1,188.9 1466.1,196.5 1466.2,203.3 1466.2,209.4 1466.3,215 1466.3,220.1 1466.4,224.7 1466.4,228.9 1466.5,232.7 1466.5,236.2 1466.6,239.3 1466.6,242.2 1466.6,244.8 1466.7,247.2 1466.7,249.3 1466.8,251.3 1466.8,253.1 1466.9,254.8 1466.9,256.3 1467,257.6 1467,258.9 1467.1,260 1467.1,261.1 1467.2,262 1467.2,262.9 1467.3,263.7 1467.3,264.4 1467.3,265.1 1467.4,265.7 1467.4,266.2 1467.5,267.2 1467.6,268 1467.7,268.7 1467.8,269.3 1468,270 1468.1,270.6 1468.3,271.2 1468.5,271.7 1468.8,272.3 1469.2,272.7 1469.7,273.1 1470.2,273.4 1470.7,273.6 1471.2,273.8 1471.8,274 1472.3,274.2 1472.9,274.3 1473.4,274.4 1474,274.5 1474.6,274.6 1475.1,274.6 1475.7,274.7 1476.2,274.7 1476.8,274.8 1477.4,274.8 1477.9,274.8 1478.5,274.9 1479,274.9 1479.6,274.9 1480.1,274.9 1480.7,274.9 1481.3,274.9 1481.8,275 1482.4,275 1482.9,275 1483.5,275 1484.1,275 1484.4,270.5 1484.5,260.3 1484.5,252.8 1484.6,248.5 1484.6,245.8 1484.7,244 1484.7,242.3 1484.8,241.1 1484.8,239.9 1484.8,238.9 1484.9,238.1 1484.9,237.4 1485,236.8 1485,236.2 1485.1,235.4 1485.2,234.8 1485.4,234.2 1485.9,234.2 1486.5,234.2 1487,234.2 1487.6,234.2 1488.2,234.2 1488.7,234.2 1489.3,234.2 1489.8,234.2 1490.4,234.2 1490.9,234.2 1491.5,234.2 1492.1,234.2 1492.6,234.2 1493.2,234.2 1493.7,234.2 1494.3,234.2 1494.9,234.2 1495.4,234.2 1496,234.2 1496.5,234.2 1497.1,234.2 1497.7,234.2 1498.2,234.2 1498.8,234.2 1499.3,234.2 1499.9,234.2 1500.4,234.2 1501,234.2 1501.6,234.2 1502.1,234.2 1502.7,234.2 1503.1,239 1503.1,242.9 1503.1,246.1 1503.2,248.9 1503.2,251.3 1503.3,253.5 1503.3,255.4 1503.4,257.1 1503.4,258.7 1503.5,260.1 1503.5,261.4 1503.6,262.5 1503.6,263.6 1503.7,264.5 1503.7,265.4 1503.7,266.2 1503.8,266.9 1503.8,267.5 1503.9,268.1 1504,269.2 1504.1,270 1504.2,270.7 1504.3,271.3 1504.4,272 1504.5,272.6 1504.7,273.1 1505,273.6 1505.4,274.1 1505.9,274.3 1506.5,274.5 1507.1,274.6 1507.6,274.6 1508.2,274.7 1508.7,274.8 1509.3,274.8 1509.8,274.8 1510.4,274.9 1511,274.9 1511.5,274.9 1512.1,274.9 1512.6,274.9 1513.2,274.9 1513.8,274.9 1514.3,275 1514.9,275 1515.4,275 1516,275 1516.6,275 1517.1,275 1517.7,275 1518.2,275 1518.8,275 1519.3,275 1519.9,275 1520.5,275 1521,275 1521.6,275 1521.7,238.5 1521.7,172 1521.8,138.4 1521.8,120.8 1521.9,107.9 1521.9,99.5 1521.9,93 1522,88 1522,85.2 1522.1,83.5 1522.1,82.1 1522.2,81.1 1522.2,80.3 1522.3,79.6 1522.9,79.6 1523.4,79.6 1524,79.6 1524.6,79.6 1525.1,79.6 1525.7,79.6 1526.2,79.6 1526.8,79.6 1527.3,79.6 1527.9,79.6 1528.5,79.6 1529,79.6 1529.6,79.6 1530.1,79.6 1530.7,79.6 1531.3,79.6 1531.8,79.6 1532.4,79.6 1532.9,79.6 1533.5,79.6 1534.1,79.6 1534.6,79.6 1535.2,79.6 1535.7,79.6 1536.3,79.6 1536.8,79.6 1537.4,79.6 1538,79.6 1538.5,79.6 1539.1,79.6 1539.6,79.6 1540.2,79.6 1540.3,102.5 1540.3,121.2 1540.4,136.7 1540.4,150.1 1540.5,161.7 1540.5,172 1540.6,181.2 1540.6,189.4 1540.7,196.9 1540.7,203.6 1540.8,209.7 1540.8,215.2 1540.8,220.2 1540.9,224.8 1540.9,228.9 1541,232.7 1541,236.1 1541.1,239.2 1541.1,242.1 1541.2,244.7 1541.2,247 1541.3,249.2 1541.3,251.2 1541.4,253 1541.4,254.6 1541.5,256.1 1541.5,257.4 1541.5,258.7 1541.6,259.8 1541.6,260.8 1541.7,261.8 1541.7,262.7 1541.8,263.4 1541.8,264.2 1541.9,264.8 1541.9,265.4 1542,266 1542.1,267 1542.2,267.8 1542.2,268.5 1542.3,269.1 1542.5,269.8 1542.6,270.4 1542.8,271 1543,271.5 1543.3,272 1543.7,272.5 1544.1,272.8 1544.6,273.2 1545.1,273.4 1545.6,273.7 1546.2,273.9 1546.7,274.1 1547.3,274.2 1547.8,274.3 1548.4,274.4 1548.9,274.5 1549.5,274.6 1550.1,274.7 1550.6,274.7 1551.2,274.8 1551.7,274.8 1552.3,274.8 1552.9,274.9 1553.4,274.9 1554,274.9 1554.5,274.9 1555.1,274.9 1555.7,274.9 1556.2,274.9 1556.8,275 1557.3,275 1557.9,275 1558.4,275 1558.9,258.8 1559,222 1559,194.8 1559.1,179.3 1559.1,169.7 1559.1,163.1 1559.2,157.2 1559.2,152.8 1559.3,148.4 1559.3,144.7 1559.4,141.8 1559.4,139.6 1559.5,137.4 1559.5,135.2 1559.6,133.7 1559.6,132.2 1559.7,130.7 1559.7,130 1559.7,129.3 1559.8,128.5 1559.8,127.8 1560.4,127.8 1561,127.8 1561.5,127.8 1562.1,127.8 1562.6,127.8 1563.2,127.8 1563.8,127.8 1564.3,127.8 1564.9,127.8 1565.4,127.8 1566,127.8 1566.5,127.8 1567.1,127.8 1567.7,127.8 1568.2,127.8 1568.8,127.8 1569.3,127.8 1569.9,127.8 1570.5,127.8 1571,127.8 1571.6,127.8 1572.1,127.8 1572.7,127.8 1573.2,127.8 1573.8,127.8 1574.4,127.8 1574.9,127.8 1575.5,127.8 1576,127.8 1576.6,127.8 1577.2,127.8 1577.5,145.1 1577.6,159.1 1577.6,170.9 1577.7,180.9 1577.7,189.7 1577.8,197.4 1577.8,204.4 1577.9,210.6 1577.9,216.1 1577.9,221.2 1578,225.8 1578,229.9 1578.1,233.7 1578.1,237.2 1578.2,240.3 1578.2,243.1 1578.3,245.7 1578.3,248.1 1578.4,250.2 1578.4,252.2 1578.5,253.9 1578.5,255.6 1578.6,257 1578.6,258.4 1578.6,259.6 1578.7,260.7 1578.7,261.8 1578.8,262.7 1578.8,263.6 1578.9,264.3 1578.9,265.1 1579,265.7 1579,266.3 1579.1,267.3 1579.2,268.2 1579.3,269 1579.4,269.6 1579.5,270.3 1579.7,270.9 1579.9,271.5 1580.1,272.1 1580.4,272.6 1580.8,273 1581.3,273.4 1581.8,273.6 1582.3,273.8 1582.9,274 1583.4,274.2 1584,274.3 1584.6,274.4 1585.1,274.5 1585.7,274.6 1586.2,274.6 1586.8,274.7 1587.4,274.8 1587.9,274.8 1588.5,274.8 1589,274.9 1589.6,274.9 1590.1,274.9 1590.7,274.9 1591.3,274.9 1591.8,274.9 1592.4,274.9 1592.9,275 1593.5,275 1594.1,275 1594.6,275 1595.2,275 1595.7,275 1596.2,238 1596.2,170.7 1596.2,136.7 1596.3,118.8 1596.3,105.8 1596.4,97.3 1596.4,90.7 1596.5,85.6 1596.5,82.8 1596.6,81 1596.6,79.7 1596.7,78.7 1596.7,77.9 1596.8,77.1 1597.4,77.1 1597.9,77.1 1598.5,77.1 1599,77.1 1599.6,77.1 1600.2,77.1 1600.7,77.1 1601.3,77.1 1601.8,77.1 1602.4,77.1 1602.9,77.1 1603.5,77.1 1604.1,77.1 1604.6,77.1 1605.2,77.1 1605.7,77.1 1606.3,77.1 1606.9,77.1 1607.4,77.1 1608,77.1 1608.5,77.1 1609.1,77.1 1609.7,77.1 1610.2,77.1 1610.8,77.1 1611.3,77.1 1611.9,77.1 1612.4,77.1 1613,77.1 1613.6,77.1 1614.1,77.1 1614.7,77.1 1614.8,100.3 1614.8,119.2 1614.9,135 1614.9,148.5 1615,160.3 1615,170.7 1615,180 1615.1,188.4 1615.1,195.9 1615.2,202.7 1615.2,208.8 1615.3,214.4 1615.3,219.5 1615.4,224.1 1615.4,228.3 1615.5,232.1 1615.5,235.6 1615.6,238.8 1615.6,241.7 1615.7,244.3 1615.7,246.7 1615.7,248.9 1615.8,250.9 1615.8,252.7 1615.9,254.3 1615.9,255.8 1616,257.2 1616,258.5 1616.1,259.6 1616.1,260.7 1616.2,261.6 1616.2,262.5 1616.3,263.3 1616.3,264 1616.4,264.7 1616.4,265.3 1616.4,265.9 1616.5,266.9 1616.6,267.7 1616.7,268.4 1616.8,269 1617,269.7 1617.1,270.3 1617.3,270.9 1617.5,271.5 1617.8,272 1618.2,272.4 1618.6,272.8 1619.1,273.1 1619.6,273.4 1620.1,273.7 1620.6,273.9 1621.2,274 1621.8,274.2 1622.3,274.3 1622.9,274.4 1623.4,274.5 1624,274.6 1624.5,274.7 1625.1,274.7 1625.7,274.8 1626.2,274.8 1626.8,274.8 1627.3,274.9 1627.9,274.9 1628.5,274.9 1629,274.9 1629.6,274.9 1630.1,274.9 1630.7,274.9 1631.2,275 1631.8,275 1632.4,275 1632.9,275 1633.5,275 1634,275 1634.6,275 1635.2,275 1635.7,275 1636.3,275 1636.8,275 1637.4,275 1638,275 1638.5,275 1639.1,275 1639.6,275 1640.2,275 1640.7,275 1641.3,275 1641.9,275 1642.4,275 1643,275 1643.5,275 1644.1,275 1644.7,275 1645.2,275 1645.8,275 1646.3,275 1646.9,275 1647.4,275 1648,275 1648.6,275 1649.1,275 1649.7,275 1650.2,275 1650.8,275 1651.4,275 1651.9,275 1652.5,275 1653,275 1653.6,275 1654.2,275 1654.7,275 1655.3,275 1655.8,275 1656.4,275 1656.9,275 1657.5,275 1658.1,275 1658.6,275 1659.2,275 1659.7,275 1660.3,275 1660.9,275 1661.4,275 1662,275 1662.5,275 1663.1,275 1663.6,275 1664.2,275 1664.8,275 1665.3,275 1665.9,275 1666.4,275 1667,275 1667.6,275 1668.1,275 1668.7,275 1669.2,275"/></defs>
<g clip-path="url(#cc)">
<use href="#cdat" fill="none" stroke="#154f80" stroke-width="1.7" style="marker-start:url(#sqs);marker-mid:url(#sqs);marker-end:url(#sqs)"/>
</g>
<path d="M1241.3 27.6H1669V373.6H1241.3ZM1241.3 286.6H1669" fill="none" stroke="#000" stroke-width="2.8"/>
<path d="M1241.3 275h-12M1241.3 213.2h-6.5M1241.3 151.3h-12M1241.3 89.4h-6.5M1241.3 27.6h-12M1241.3 373.6v14M1287.8 280.1v13M1287.8 373.6v7.5M1334.4 280.1v19M1334.4 373.6v14M1381 280.1v13M1381 373.6v7.5M1427.5 280.1v19M1427.5 373.6v14M1474 280.1v13M1474 373.6v7.5M1520.6 280.1v19M1520.6 373.6v14M1567.2 280.1v13M1567.2 373.6v7.5M1613.7 280.1v19M1613.7 373.6v14M1660.2 280.1v13M1660.2 373.6v7.5M1669 373.6h13M1669 349.1h6.5M1669 324.6h13M1669 300.1h6.5" stroke="#000" stroke-width="2.8" fill="none"/>
<text x="1221.5" y="283.2" font-size="27" text-anchor="end">1</text>
<text x="1221.5" y="159.5" font-size="27" text-anchor="end">2</text>
<text x="1221.5" y="35.8" font-size="27" text-anchor="end">3</text>
<text x="1242.3" y="410.5" font-size="27.5" text-anchor="middle">0</text>
<text x="1335.4" y="410.5" font-size="27.5" text-anchor="middle">100</text>
<text x="1428.5" y="410.5" font-size="27.5" text-anchor="middle">200</text>
<text x="1521.6" y="410.5" font-size="27.5" text-anchor="middle">300</text>
<text x="1614.7" y="410.5" font-size="27.5" text-anchor="middle">400</text>
<text x="1691" y="383.4" font-size="27.5">0</text>
<text x="1691" y="334.4" font-size="27.5">2</text>
<text x="1455.6" y="452.3" font-size="31" font-style="italic" font-family="'Liberation Serif', serif">t</text>
<text x="1473.6" y="452.3" font-size="28.5">(s)</text>
<text transform="translate(1183.5 202) rotate(-90)" font-size="27.5"><tspan font-family="'Liberation Serif', serif" font-style="italic" font-size="26.5" letter-spacing="2.6">I/I</tspan><tspan font-family="'Liberation Serif', serif" font-size="19.1" dy="4.2">0</tspan><tspan dy="-4.2" font-size="1"> </tspan><tspan dx="4"> (a.u.)</tspan></text>
<text x="1746" y="330.5" font-size="27.5" text-anchor="middle" transform="rotate(-90 1746 330.5)"><tspan font-style="italic">P</tspan><tspan font-style="italic" font-size="19" dy="5">light</tspan><tspan dy="-5"> (mW/cm</tspan><tspan font-size="18" dy="-10">2</tspan><tspan dy="10">)</tspan></text>
<text transform="translate(1138.5 41) scale(1.06 1)" font-size="36" font-weight="bold">(c)</text>
</g>
<g id="pd">
<path d="M193.4 788.6V807M187.9 788.6h11M187.9 807h11M281.7 605.6V651.6M276.2 605.6h11M276.2 651.6h11M432.4 553V605.6M426.9 553h11M426.9 605.6h11M504.5 533.3V587.5M499 533.3h11M499 587.5h11" stroke="#0b800b" stroke-width="2" fill="none"/>
<polyline points="193.4,797.8 281.7,628.6 432.4,579.3 504.5,560.4" fill="none" stroke="#0b800b" stroke-width="2.5"/>
<rect x="187.7" y="792" width="11.5" height="11.5" fill="#0b800b"/>
<rect x="276" y="622.8" width="11.5" height="11.5" fill="#0b800b"/>
<rect x="426.7" y="573.5" width="11.5" height="11.5" fill="#0b800b"/>
<rect x="498.8" y="554.6" width="11.5" height="11.5" fill="#0b800b"/>
<rect x="147.5" y="515.2" width="409" height="328.6" fill="none" stroke="#000" stroke-width="2.8"/>
<path d="M147.5 843.8h-12M147.5 802.7h-6.5M147.5 761.6h-12M147.5 720.6h-6.5M147.5 679.5h-12M147.5 638.4h-6.5M147.5 597.3h-12M147.5 556.3h-6.5M147.5 515.2h-12M190.2 843.8v12M244 843.8v6.5M297.9 843.8v12M351.7 843.8v6.5M405.5 843.8v12M459.3 843.8v6.5M513.2 843.8v12" stroke="#000" stroke-width="2.8" fill="none"/>
<text x="134.3" y="529.9" font-size="27" text-anchor="end">200</text>
<text x="134.3" y="605.7" font-size="27" text-anchor="end">150</text>
<text x="134.3" y="687.9" font-size="27" text-anchor="end">100</text>
<text x="134.3" y="767.2" font-size="27" text-anchor="end">50</text>
<text x="134.3" y="845.6" font-size="27" text-anchor="end">0</text>
<text x="190.2" y="879.4" font-size="27" text-anchor="middle">0</text>
<text x="297.9" y="879.4" font-size="27" text-anchor="middle">1</text>
<text x="405.5" y="879.4" font-size="27" text-anchor="middle">2</text>
<text x="513.2" y="879.4" font-size="27" text-anchor="middle">3</text>
<text x="266.5" y="917.7" font-size="27.5"><tspan font-style="italic">P</tspan><tspan font-style="italic" font-size="18.7" dy="5.5">light</tspan><tspan dy="-5.5"> (mW/cm</tspan><tspan font-size="17.6" dy="-10">2</tspan><tspan dy="10">)</tspan></text>
<text x="74.5" y="664.5" font-size="27" text-anchor="middle" transform="rotate(-90 74.5 664.5)">S (%)</text>
<g font-family="'Liberation Serif', serif" font-weight="bold" font-style="italic">
<text x="164.8" y="567.3" font-size="24" letter-spacing="2.2">S<tspan dx="-3.5"> =</tspan></text>
<text x="209.5" y="548.3" font-size="22" letter-spacing="2.05">I<tspan font-size="17" dy="4">light</tspan><tspan dy="-4" dx="-4" font-size="25"> −</tspan><tspan dx="0.5"> I</tspan><tspan font-size="17" dy="4">dark</tspan></text>
<text x="250" y="583.5" font-size="22" letter-spacing="2.05">I<tspan font-size="17" dy="4">dark</tspan></text>
</g>
<line x1="208.5" y1="560.7" x2="341.8" y2="560.7" stroke="#000" stroke-width="1.8"/>
<rect x="354.9" y="638" width="198.7" height="155.4" fill="#fff"/>
<rect x="379.8" y="754.9" width="9.3" height="32.5" fill="#f5cc5e"/>
<rect x="412.9" y="778" width="9.3" height="9.3" fill="#f5cc5e"/>
<rect x="429.5" y="778" width="9.3" height="9.3" fill="#f5cc5e"/>
<rect x="446" y="762.6" width="9.3" height="24.8" fill="#f5cc5e"/>
<rect x="479.1" y="754.9" width="9.3" height="32.5" fill="#f5cc5e"/>
<rect x="495.7" y="778" width="9.3" height="9.3" fill="#f5cc5e"/>
<rect x="512.2" y="754.9" width="9.3" height="32.5" fill="#f5cc5e"/>
<polyline points="355.3,741.1 355.4,741.6 355.5,742 355.7,742.5 355.8,742.9 356,743.4 356.3,743.8 356.6,744.1 357,744.4 357.4,744.6 357.8,744.7 358.3,744.8 358.7,744.8 359.2,744.9 359.6,744.9 360.1,744.9 360.6,744.9 361,744.9 361.5,744.9 361.9,744.9 362.4,744.9 362.8,744.9 363.3,744.9 363.7,744.9 364.2,744.9 364.7,744.9 365.1,744.9 365.6,744.9 366,744.9 366.5,744.9 366.9,744.9 367.4,744.9 367.8,744.9 368.3,744.9 368.7,744.9 369.2,744.9 369.7,744.9 370.1,744.9 370.6,744.9 371,744.9 371.5,744.9 371.9,744.9 372.4,744.9 372.8,744.9 373.3,744.9 373.8,744.9 374.2,744.9 374.7,744.9 375.1,744.9 375.6,744.9 376,744.9 376.5,744.9 376.9,744.9 377.4,744.9 377.9,744.9 378.3,744.9 378.8,744.9 379.2,744.9 379.7,744.9 380.1,744.9 380.6,744.9 380.6,728.9 380.6,699.8 380.6,685 380.7,677.3 380.7,671.7 380.7,668 380.7,665.2 380.7,662.9 380.8,661.7 380.8,661 380.8,660.4 380.9,659.6 381.2,659.3 381.6,659.3 382.1,659.3 382.5,659.3 383,659.3 383.4,659.3 383.9,659.3 384.3,659.3 384.8,659.3 385.3,659.3 385.7,659.3 386.2,659.3 386.6,659.3 387.1,659.3 387.5,659.3 388,659.3 388.4,659.3 388.9,669.3 388.9,677.5 388.9,684.3 388.9,690.2 389,695.3 389,699.8 389,703.8 389,707.4 389,710.7 389.1,713.6 389.1,716.3 389.1,718.7 389.1,720.9 389.1,722.9 389.2,724.7 389.2,726.4 389.2,727.9 389.2,729.2 389.3,730.5 389.3,731.6 389.3,732.7 389.3,733.6 389.3,734.5 389.4,735.2 389.4,736 389.4,736.6 389.4,737.2 389.4,737.7 389.5,738.2 389.5,738.7 389.5,739.5 389.6,740.2 389.6,740.7 389.6,741.2 389.7,741.7 389.8,742.3 389.9,742.8 390,743.2 390.3,743.7 390.6,744 391,744.2 391.4,744.4 391.9,744.5 392.3,744.6 392.8,744.7 393.2,744.8 393.7,744.8 394.1,744.8 394.6,744.8 395,744.9 395.5,744.9 396,744.9 396.4,744.9 396.9,744.9 397.2,743.1 397.2,739 397.2,736 397.2,734.3 397.2,733.3 397.3,732.5 397.3,731.9 397.3,731.4 397.3,730.9 397.4,730.2 397.4,729.7 397.5,729.1 397.6,728.6 398,728.6 398.5,728.6 398.9,728.6 399.4,728.6 399.8,728.6 400.3,728.6 400.8,728.6 401.2,728.6 401.7,728.6 402.1,728.6 402.6,728.6 403,728.6 403.5,728.6 403.9,728.6 404.4,728.6 404.9,728.6 405.3,728.6 405.4,730.6 405.5,732.1 405.5,733.4 405.5,734.5 405.5,735.5 405.5,736.3 405.6,737.1 405.6,737.8 405.6,738.4 405.6,739 405.6,739.5 405.7,739.9 405.7,740.7 405.7,741.4 405.8,741.9 405.8,742.4 405.9,742.9 406,743.4 406.1,743.9 406.3,744.4 406.7,744.6 407.1,744.7 407.6,744.8 408,744.8 408.5,744.8 408.9,744.9 409.4,744.9 409.9,744.9 410.3,744.9 410.8,744.9 411.2,744.9 411.7,744.9 412.1,744.9 412.6,744.9 413,744.9 413.5,744.9 413.7,737.8 413.7,721.7 413.7,709.7 413.8,703 413.8,698.8 413.8,695.9 413.8,693.3 413.9,691.4 413.9,689.4 413.9,687.8 413.9,686.5 413.9,685.6 414,684.6 414,683.6 414,683 414,682.3 414,681.7 414.1,681 414.1,680.4 414.6,680.4 415,680.4 415.5,680.4 415.9,680.4 416.4,680.4 416.9,680.4 417.3,680.4 417.8,680.4 418.2,680.4 418.7,680.4 419.1,680.4 419.6,680.4 420,680.4 420.5,680.4 420.9,680.4 421.4,680.4 421.9,680.4 422,688 422,694.1 422,699.3 422,703.7 422.1,707.5 422.1,710.9 422.1,713.9 422.1,716.7 422.1,719.1 422.2,721.3 422.2,723.3 422.2,725.2 422.2,726.8 422.3,728.3 422.3,729.7 422.3,730.9 422.3,732.1 422.3,733.1 422.4,734 422.4,734.9 422.4,735.7 422.4,736.4 422.4,737 422.5,737.6 422.5,738.2 422.5,738.7 422.5,739.5 422.6,740.2 422.6,740.8 422.7,741.3 422.7,741.9 422.8,742.4 422.9,742.9 423,743.3 423.2,743.8 423.5,744.1 423.9,744.3 424.4,744.5 424.8,744.6 425.3,744.7 425.7,744.7 426.2,744.8 426.7,744.8 427.1,744.8 427.6,744.9 428,744.9 428.5,744.9 428.9,744.9 429.4,744.9 429.8,744.9 430.3,737.8 430.3,721.7 430.3,709.7 430.3,703 430.3,698.8 430.4,695.9 430.4,693.3 430.4,691.4 430.4,689.4 430.4,687.8 430.5,686.5 430.5,685.6 430.5,684.6 430.5,683.6 430.5,683 430.6,682.3 430.6,681.7 430.6,681 430.7,680.4 431.1,680.4 431.6,680.4 432,680.4 432.5,680.4 432.9,680.4 433.4,680.4 433.9,680.4 434.3,680.4 434.8,680.4 435.2,680.4 435.7,680.4 436.1,680.4 436.6,680.4 437,680.4 437.5,680.4 438,680.4 438.4,680.4 438.5,688 438.6,694.1 438.6,699.3 438.6,703.7 438.6,707.5 438.6,710.9 438.7,713.9 438.7,716.7 438.7,719.1 438.7,721.3 438.7,723.3 438.8,725.2 438.8,726.8 438.8,728.3 438.8,729.7 438.8,730.9 438.9,732.1 438.9,733.1 438.9,734 438.9,734.9 438.9,735.7 439,736.4 439,737 439,737.6 439,738.2 439.1,738.7 439.1,739.5 439.1,740.2 439.2,740.8 439.2,741.3 439.3,741.9 439.3,742.4 439.4,742.9 439.5,743.3 439.8,743.8 440.1,744.1 440.5,744.3 440.9,744.5 441.4,744.6 441.8,744.7 442.3,744.7 442.8,744.8 443.2,744.8 443.7,744.8 444.1,744.9 444.6,744.9 445,744.9 445.5,744.9 445.9,744.9 446.4,744.9 446.8,730.2 446.8,703.5 446.9,690 446.9,682.9 446.9,677.7 446.9,674.3 446.9,671.7 447,669.7 447,668.6 447,667.9 447,667.3 447.1,666.6 447.4,666.3 447.8,666.3 448.3,666.3 448.8,666.3 449.2,666.3 449.7,666.3 450.1,666.3 450.6,666.3 451,666.3 451.5,666.3 451.9,666.3 452.4,666.3 452.9,666.3 453.3,666.3 453.8,666.3 454.2,666.3 454.7,666.3 455.1,675.5 455.1,683 455.1,689.3 455.1,694.7 455.2,699.4 455.2,703.5 455.2,707.2 455.2,710.5 455.3,713.5 455.3,716.2 455.3,718.6 455.3,720.8 455.3,722.9 455.4,724.7 455.4,726.4 455.4,727.9 455.4,729.3 455.4,730.5 455.5,731.7 455.5,732.7 455.5,733.7 455.5,734.5 455.5,735.3 455.6,736 455.6,736.7 455.6,737.3 455.6,737.8 455.6,738.3 455.7,738.8 455.7,739.6 455.7,740.3 455.8,740.8 455.8,741.3 455.9,741.8 456,742.4 456.1,742.9 456.2,743.3 456.5,743.7 456.8,744 457.2,744.3 457.6,744.4 458,744.5 458.5,744.6 459,744.7 459.4,744.8 459.9,744.8 460.3,744.8 460.8,744.8 461.2,744.9 461.7,744.9 462.1,744.9 462.6,744.9 463.1,744.9 463.4,742.9 463.4,738.5 463.4,735.2 463.4,733.3 463.4,732.1 463.5,731.3 463.5,730.6 463.5,730.1 463.5,729.5 463.6,728.7 463.6,728.2 463.7,727.6 463.8,727.1 464.2,727 464.7,727 465.1,727 465.6,727 466,727 466.5,727 466.9,727 467.4,727 467.9,727 468.3,727 468.8,727 469.2,727 469.7,727 470.1,727 470.6,727 471,727 471.5,727 471.6,729.1 471.7,730.8 471.7,732.2 471.7,733.5 471.7,734.5 471.7,735.5 471.8,736.3 471.8,737.1 471.8,737.7 471.8,738.4 471.8,738.9 471.9,739.4 471.9,739.9 471.9,740.7 472,741.3 472,741.9 472.1,742.3 472.1,742.9 472.2,743.4 472.3,743.9 472.5,744.3 472.9,744.6 473.4,744.7 473.8,744.8 474.3,744.8 474.7,744.8 475.2,744.8 475.6,744.9 476.1,744.9 476.5,744.9 477,744.9 477.5,744.9 477.9,744.9 478.4,744.9 478.8,744.9 479.3,744.9 479.7,744.9 479.9,728.9 479.9,699.8 480,685 480,677.3 480,671.7 480,668 480,665.2 480.1,662.9 480.1,661.7 480.1,661 480.1,660.4 480.2,659.6 480.5,659.3 480.9,659.3 481.4,659.3 481.8,659.3 482.3,659.3 482.8,659.3 483.2,659.3 483.7,659.3 484.1,659.3 484.6,659.3 485,659.3 485.5,659.3 485.9,659.3 486.4,659.3 486.8,659.3 487.3,659.3 487.8,659.3 488.2,669.3 488.2,677.5 488.2,684.3 488.3,690.2 488.3,695.3 488.3,699.8 488.3,703.8 488.3,707.4 488.4,710.7 488.4,713.6 488.4,716.3 488.4,718.7 488.4,720.9 488.5,722.9 488.5,724.7 488.5,726.4 488.5,727.9 488.5,729.2 488.6,730.5 488.6,731.6 488.6,732.7 488.6,733.6 488.6,734.5 488.7,735.2 488.7,736 488.7,736.6 488.7,737.2 488.8,737.7 488.8,738.2 488.8,738.7 488.8,739.5 488.9,740.2 488.9,740.7 489,741.2 489,741.7 489.1,742.3 489.2,742.8 489.4,743.2 489.6,743.7 489.9,744 490.3,744.2 490.7,744.4 491.2,744.5 491.6,744.6 492.1,744.7 492.5,744.8 493,744.8 493.4,744.8 493.9,744.8 494.4,744.9 494.8,744.9 495.3,744.9 495.7,744.9 496.2,744.9 496.5,737.8 496.5,721.7 496.5,709.7 496.5,703 496.6,698.8 496.6,695.9 496.6,693.3 496.6,691.4 496.6,689.4 496.7,687.8 496.7,686.5 496.7,685.6 496.7,684.6 496.7,683.6 496.8,683 496.8,682.3 496.8,681.7 496.8,681 496.9,680.4 497.3,680.4 497.8,680.4 498.2,680.4 498.7,680.4 499.2,680.4 499.6,680.4 500.1,680.4 500.5,680.4 501,680.4 501.4,680.4 501.9,680.4 502.3,680.4 502.8,680.4 503.3,680.4 503.7,680.4 504.2,680.4 504.6,680.4 504.7,688 504.8,694.1 504.8,699.3 504.8,703.7 504.8,707.5 504.8,710.9 504.9,713.9 504.9,716.7 504.9,719.1 504.9,721.3 505,723.3 505,725.2 505,726.8 505,728.3 505,729.7 505.1,730.9 505.1,732.1 505.1,733.1 505.1,734 505.1,734.9 505.2,735.7 505.2,736.4 505.2,737 505.2,737.6 505.2,738.2 505.3,738.7 505.3,739.5 505.3,740.2 505.4,740.8 505.4,741.3 505.5,741.9 505.6,742.4 505.6,742.9 505.8,743.3 506,743.8 506.3,744.1 506.7,744.3 507.1,744.5 507.6,744.6 508.1,744.7 508.5,744.7 509,744.8 509.4,744.8 509.9,744.8 510.3,744.9 510.8,744.9 511.2,744.9 511.7,744.9 512.2,744.9 512.6,744.9 513,728.7 513,699.2 513.1,684.3 513.1,676.5 513.1,670.8 513.1,667 513.1,664.2 513.2,661.9 513.2,660.7 513.2,659.9 513.2,659.3 513.3,658.5 513.6,658.2 514,658.2 514.5,658.2 514.9,658.2 515.4,658.2 515.8,658.2 516.3,658.2 516.7,658.2 517.2,658.2 517.7,658.2 518.1,658.2 518.6,658.2 519,658.2 519.5,658.2 519.9,658.2 520.4,658.2 520.8,658.2 521.3,668.4 521.3,676.6 521.3,683.6 521.4,689.5 521.4,694.6 521.4,699.2 521.4,703.3 521.4,706.9 521.5,710.2 521.5,713.2 521.5,715.9 521.5,718.4 521.5,720.6 521.6,722.6 521.6,724.4 521.6,726.1 521.6,727.6 521.6,729 521.7,730.3 521.7,731.4 521.7,732.5 521.7,733.5 521.8,734.3 521.8,735.1 521.8,735.8 521.8,736.5 521.8,737.1 521.9,737.7 521.9,738.2 521.9,738.6 521.9,739.4 522,740.1 522,740.7 522.1,741.1 522.1,741.7 522.2,742.2 522.3,742.6 522.4,743.1 522.6,743.5 522.9,743.8 523.2,744.1 523.7,744.3 524.1,744.5 524.5,744.6 525,744.7 525.5,744.7 525.9,744.8 526.4,744.8 526.8,744.8 527.3,744.9 527.7,744.9 528.2,744.9 528.6,744.9 529.1,744.9 529.6,744.9 530,744.9 530.5,744.9 530.9,744.9 531.4,744.9 531.8,744.9 532.3,744.9 532.7,744.9 533.2,744.9 533.6,744.9 534.1,744.9 534.6,744.9 535,744.9 535.5,744.9 535.9,744.9 536.4,744.9 536.8,744.9 537.3,744.9 537.7,744.9 538.2,744.9 538.7,744.9 539.1,744.9 539.6,744.9 540,744.9 540.5,744.9 540.9,744.9 541.4,744.9 541.8,744.9 542.3,744.9 542.8,744.9 543.2,744.9 543.7,744.9 544.1,744.9 544.6,744.9 545,744.9 545.5,744.9" fill="none" stroke="#154f80" stroke-width="1.2" marker-mid="url(#cid)"/>
<path d="M354.9 638H545.6V787.4H354.9ZM354.9 750.5H545.6" fill="none" stroke="#5c5c5c" stroke-width="1.3"/>
<path d="M355.3 787.4v5.5M376 787.4v3M376 747.5v6M396.7 787.4v5.5M396.7 747.5v8.5M417.4 787.4v3M417.4 747.5v6M438.1 787.4v5.5M438.1 747.5v8.5M458.7 787.4v3M458.7 747.5v6M479.4 787.4v5.5M479.4 747.5v8.5M500.1 787.4v3M500.1 747.5v6M520.8 787.4v5.5M520.8 747.5v8.5M541.5 787.4v3M541.5 747.5v6M354.9 744.9h-5.5M354.9 717.8h-3M354.9 690.7h-5.5M354.9 663.6h-3M354.9 638h-5.5M545.6 787.4h5.5M545.6 776.4h3M545.6 765.4h5.5M545.6 754.4h3" stroke="#5c5c5c" stroke-width="1.3" fill="none"/>
<text x="352.8" y="649.8" font-size="26" text-anchor="end">200</text>
<text x="331.8" y="788.3" font-size="26" text-anchor="middle">0</text>
<text x="380.6" y="815.8" font-size="26" text-anchor="middle">0</text>
<text x="426.9" y="815.8" font-size="26" text-anchor="middle">1</text>
<text x="473.4" y="815.8" font-size="26" text-anchor="middle">2</text>
<text x="518.6" y="815.8" font-size="26" text-anchor="middle">3</text>
<text x="374.5" y="662.6" font-size="28" fill="#1b6fae" font-weight="bold" font-style="italic">P<tspan font-size="19" dy="6" dx="-1">light</tspan></text>
<path d="M445.9 644.7V666" stroke="#1b6fae" stroke-width="1" fill="none"/>
<path d="M441.4 660.5L445.9 667.5L450.4 660.5" stroke="#1b6fae" stroke-width="1.1" fill="none"/>
<path d="M435.4 676.4C410 679 394 690 388.8 707.5" stroke="#1b6fae" stroke-width="1.5" fill="none"/>
<polygon points="386.5,710.5 388.2,701.5 391,705 395.5,704.2" fill="#1b6fae"/>
<path d="M414.1 737.5C422 716 438 707 456 704.6" stroke="#f01414" stroke-width="1.5" fill="none"/>
<polygon points="461.5,704.2 452,700.2 454,704.8 452.6,709.2" fill="#f01414"/>
<text x="439.5" y="743.5" font-size="28" fill="#f01414" font-weight="bold" font-style="italic">P<tspan font-size="19" dy="7">light</tspan></text>
<path d="M511 747.6V727" stroke="#f01414" stroke-width="1" fill="none"/>
<path d="M507.3 732.5L511 726L514.7 732.5" stroke="#f01414" stroke-width="1.1" fill="none"/>
<text transform="translate(10.8 511.3) scale(1.05 1)" font-size="37" font-weight="bold">(d)</text>
</g>
<g id="pe">
<polyline points="749.9,590.5 838.3,706.8 989.2,751 1063,761.9" fill="none" stroke="#f0148a" stroke-width="2.1"/>
<path d="M749.9 585.5v10M745.4 585.5h9M745.4 595.5h9M838.3 701.8v10M833.8 701.8h9M833.8 711.8h9M989.2 746v10M984.7 746h9M984.7 756h9M1063 756.9v10M1058.5 756.9h9M1058.5 766.9h9" stroke="#f0148a" stroke-width="1.8" fill="none"/>
<circle cx="749.9" cy="590.5" r="5.2" fill="#ff2a2a" stroke="#f0148a" stroke-width="1.2"/>
<circle cx="838.3" cy="706.8" r="5.2" fill="#ff2a2a" stroke="#f0148a" stroke-width="1.2"/>
<circle cx="989.2" cy="751" r="5.2" fill="#ff2a2a" stroke="#f0148a" stroke-width="1.2"/>
<circle cx="1063" cy="761.9" r="5.2" fill="#ff2a2a" stroke="#f0148a" stroke-width="1.2"/>
<polyline points="749.9,625.1 838.3,751.8 989.2,796.8 1063,809.3" fill="none" stroke="#174c77" stroke-width="2"/>
<path d="M749.9 618.6v13M745.4 618.6h9M745.4 631.6h9M838.3 745.3v13M833.8 745.3h9M833.8 758.3h9M989.2 790.3v13M984.7 790.3h9M984.7 803.3h9M1063 802.8v13M1058.5 802.8h9M1058.5 815.8h9" stroke="#174c77" stroke-width="1.6" fill="none"/>
<polygon points="749.9,617.9 756.8,629.9 743,629.9" fill="#174c77"/>
<polygon points="838.3,744.6 845.2,756.6 831.4,756.6" fill="#174c77"/>
<polygon points="989.2,789.6 996.1,801.6 982.3,801.6" fill="#174c77"/>
<polygon points="1063,802.1 1069.9,814.1 1056.1,814.1" fill="#174c77"/>
<ellipse cx="867.5" cy="762.4" rx="14" ry="21.5" fill="none" stroke="#174c77" stroke-width="2.5" stroke-dasharray="2.2 3"/>
<line x1="869" y1="785.8" x2="836" y2="785.8" stroke="#174c77" stroke-width="2.6"/>
<polygon points="823.5,785.8 843.5,776.3 836.5,785.8 843.5,795.4" fill="#174c77"/>
<ellipse cx="935.3" cy="729.3" rx="14.5" ry="22" fill="none" stroke="#f0148a" stroke-width="2.5" stroke-dasharray="2.2 3"/>
<line x1="932.8" y1="705.7" x2="966" y2="705.7" stroke="#f0148a" stroke-width="2.6"/>
<polygon points="978.5,705.7 958.5,696.2 965.5,705.7 958.5,715.3" fill="#f0148a"/>
<line x1="703.3" y1="514" x2="1116.8" y2="514" stroke="#000" stroke-width="2.8"/>
<line x1="703.3" y1="838" x2="1116.8" y2="838" stroke="#000" stroke-width="2.8"/>
<path d="M704.5 514V838M704.5 796h-11M704.5 655h-11M704.5 514h-11M704.5 838.4h-5.3M704.5 827.3h-5.3M704.5 817.8h-5.3M704.5 809.7h-5.3M704.5 802.5h-5.3M704.5 753.6h-5.3M704.5 728.7h-5.3M704.5 711.1h-5.3M704.5 697.4h-5.3M704.5 686.3h-5.3M704.5 676.8h-5.3M704.5 668.7h-5.3M704.5 661.5h-5.3M704.5 612.6h-5.3M704.5 587.7h-5.3M704.5 570.1h-5.3M704.5 556.4h-5.3M704.5 545.3h-5.3M704.5 535.8h-5.3M704.5 527.7h-5.3M704.5 520.5h-5.3M704.5 838h-6" stroke="#174c77" stroke-width="2.2" fill="none"/>
<path d="M1115.6 514V838M1115.6 838h9.5M1115.6 706.8h9.5M1115.6 575.6h9.5M1115.6 798.5h4.5M1115.6 775.4h4.5M1115.6 759h4.5M1115.6 746.3h4.5M1115.6 735.9h4.5M1115.6 727.1h4.5M1115.6 719.5h4.5M1115.6 712.8h4.5M1115.6 667.3h4.5M1115.6 644.2h4.5M1115.6 627.8h4.5M1115.6 615.1h4.5M1115.6 604.7h4.5M1115.6 595.9h4.5M1115.6 588.3h4.5M1115.6 581.6h4.5M1115.6 536.1h4.5M1115.6 514h4.5" stroke="#f0148a" stroke-width="2.4" fill="none"/>
<path d="M747.7 838v11.5M801.6 838v6.5M855.5 838v11.5M909.4 838v6.5M963.3 838v11.5M1017.2 838v6.5M1071.1 838v11.5" stroke="#000" stroke-width="2.3" fill="none"/>
<text transform="translate(663.3 519.2) scale(0.97 1)" font-size="28" text-anchor="middle" fill="#174c77">100</text>
<text transform="translate(663.3 662.8) scale(0.97 1)" font-size="28" text-anchor="middle" fill="#174c77">10</text>
<text transform="translate(663.3 807.3) scale(0.97 1)" font-size="28" text-anchor="middle" fill="#174c77">1</text>
<text transform="translate(1132.3 583.5) scale(0.965 1)" font-size="28.3" fill="#f0148a">10<tspan font-size="19.5" dy="-9.5" dx="0.5">12</tspan></text>
<text transform="translate(1132.3 714.8) scale(0.965 1)" font-size="28.3" fill="#f0148a">10<tspan font-size="19.5" dy="-9.5" dx="0.5">11</tspan></text>
<text transform="translate(1132.3 846) scale(0.965 1)" font-size="28.3" fill="#f0148a">10<tspan font-size="19.5" dy="-9.5" dx="0.5">10</tspan></text>
<text x="746.7" y="879.6" font-size="27" text-anchor="middle">0</text>
<text x="854.5" y="879.6" font-size="27" text-anchor="middle">1</text>
<text x="962.3" y="879.6" font-size="27" text-anchor="middle">2</text>
<text x="1070.1" y="879.6" font-size="27" text-anchor="middle">3</text>
<text x="817.8" y="917.7" font-size="27.5"><tspan font-style="italic">P</tspan><tspan font-style="italic" font-size="18.7" dy="5.5">light</tspan><tspan dy="-5.5"> (mW/cm</tspan><tspan font-size="17.6" dy="-10">2</tspan><tspan dy="10">)</tspan></text>
<text x="635" y="654.6" font-size="27.3" text-anchor="middle" fill="#174c77" transform="rotate(-90 635 654.6)"><tspan font-style="italic">R</tspan> (A/W)</text>
<text x="1206" y="696" font-size="27.3" text-anchor="middle" fill="#f0148a" transform="rotate(-90 1206 696)"><tspan font-style="italic">D</tspan>* (Jones)</text>
<g font-family="'Liberation Serif', serif" font-weight="bold" font-style="italic">
<text x="840.5" y="560" font-size="23.5" letter-spacing="1.33">R = I<tspan font-size="17" dy="4">ph</tspan><tspan dy="-4"> / P</tspan><tspan font-size="17" dy="4">in</tspan><tspan dy="-4">A</tspan></text>
<text x="839.2" y="589.6" font-size="23.5" letter-spacing="1.33">D<tspan font-size="15" dy="-8">*</tspan><tspan dy="8"> =R / <tspan font-style="normal">(2</tspan>eI</tspan><tspan font-size="17" dy="4">dark</tspan><tspan dy="-4"> / A<tspan font-style="normal">)</tspan></tspan><tspan font-size="16" dy="-10" font-style="normal">0.5</tspan></text>
</g>
<text transform="translate(577.2 511.3) scale(1.05 1)" font-size="37" font-weight="bold">(e)</text>
</g>
<g id="pf">
<clipPath id="cf"><rect x="1325.8" y="512.2" width="349.2" height="329.1"/></clipPath>
<g clip-path="url(#cf)">
<polyline points="1326.1,660.4 1330.4,660.4 1334.8,660.4 1339.1,660.4 1343.4,660.4 1347.7,660.4 1352,660.4 1356.4,660.4 1360.7,660.4 1365,660.4 1369.3,660.4 1373.7,660.4 1378,660.4 1382.3,660.4 1386.6,660.4 1391,660.4 1395.3,660.4 1399.6,660.4 1403.9,660.4 1408.3,660.4 1412.6,660.4 1416.9,660.4 1421.2,660.4 1425.6,660.4 1429.9,660.4 1434.2,660.4 1438.5,660.4 1442.9,660.4 1447.2,660.4 1451.5,660.4 1455.8,660.4 1460.2,660.4 1464.5,636.4 1468.8,592.6 1473.1,570.5 1477.5,558.9 1481.8,550.4 1486.1,544.9 1490.4,540.7 1494.8,537.3 1499.1,535.6 1503.4,534.4 1507.8,533.5 1512.1,532.8 1516.4,532.3 1520.7,532.1 1525,531.9 1529.4,531.8 1533.7,531.8 1538,531.8 1542.3,531.8 1546.7,531.8 1551,531.8 1555.3,531.8 1559.6,531.8 1564,531.8 1568.3,531.8 1572.6,531.8 1576.9,531.8 1581.3,531.8 1585.6,531.8 1589.9,531.8 1594.2,531.8 1598.6,531.8 1602.9,531.8 1607.2,531.8 1611.5,531.8 1615.9,531.8 1620.2,531.8 1624.5,531.8 1628.8,531.8 1633.2,531.8 1637.5,531.8 1641.8,531.8 1646.1,531.8 1650.5,531.8 1654.8,531.8 1659.1,531.8 1663.4,531.8 1667.8,531.8 1672.1,531.8" fill="none" stroke="#222" stroke-width="0.8" marker-start="url(#sqf)" marker-mid="url(#sqf)" marker-end="url(#sqf)"/>
<polyline points="1329.8,694.5 1334.1,694.5 1338.5,694.5 1342.8,694.5 1347.1,694.5 1351.4,694.5 1355.8,694.5 1360.1,694.5 1364.4,694.5 1368.7,694.5 1373.1,694.5 1377.4,694.5 1381.7,694.5 1386,694.5 1390.4,694.5 1394.7,694.5 1399,694.5 1403.3,694.5 1407.7,694.5 1412,694.5 1416.3,694.5 1420.6,694.5 1425,694.5 1429.3,710.1 1433.6,722.7 1437.9,733.3 1442.3,742.3 1446.6,750.2 1450.9,757.2 1455.2,763.4 1459.6,768.9 1463.9,773.9 1468.2,778.4 1472.5,782.5 1476.9,786.2 1481.2,789.6 1485.5,792.7 1489.8,795.4 1494.2,798 1498.5,800.2 1502.8,802.3 1507.1,804.2 1511.5,805.9 1515.8,807.5 1520.1,808.9 1524.4,810.2 1528.8,811.4 1533.1,812.5 1537.4,813.4 1541.7,814.3 1546.1,815.1 1550.4,815.8 1554.7,816.5 1559,817.1 1563.4,817.6 1567.7,818.1 1572,818.6 1576.3,819 1580.7,819.4 1585,819.7 1589.3,820 1593.6,820.3 1598,820.6 1602.3,820.8 1606.6,821 1610.9,821.2 1615.3,821.4 1619.6,821.5 1623.9,821.7 1628.2,821.8 1632.6,821.9 1636.9,822 1641.2,822.1 1645.5,822.2 1649.9,822.3 1654.2,822.4 1658.5,822.4 1662.8,822.5 1667.2,822.6 1671.5,822.6 1675.8,822.6" fill="none" stroke="#222" stroke-width="0.8" marker-start="url(#sqf)" marker-mid="url(#sqf)" marker-end="url(#sqf)"/>
</g>
<path d="M1325.8 512.2H1673.5V841.3H1325.8ZM1325.8 677.2H1673.5" fill="none" stroke="#000" stroke-width="2.8"/>
<path d="M1325.8 660.4h-12.5M1673.5 825.6h13.5M1325.8 639.9h-6.5M1673.5 804.8h7M1325.8 619.4h-12.5M1673.5 784.1h13.5M1325.8 599h-6.5M1673.5 763.3h7M1325.8 578.5h-12.5M1673.5 742.5h13.5M1325.8 558h-6.5M1673.5 721.7h7M1325.8 537.5h-12.5M1673.5 701h13.5M1325.8 517.1h-6.5M1673.5 680.2h7M1326.1 841.3v13.5M1369.3 670.7v13M1369.3 841.3v7M1412.6 664.7v25M1412.6 841.3v13.5M1455.8 670.7v13M1455.8 841.3v7M1499.1 664.7v25M1499.1 841.3v13.5M1542.3 670.7v13M1542.3 841.3v7M1585.6 664.7v25M1585.6 841.3v13.5M1628.8 670.7v13M1628.8 841.3v7M1672.1 841.3v13.5" stroke="#000" stroke-width="2.8" fill="none"/>
<text x="1303.5" y="669.7" font-size="27" text-anchor="end">1.0</text>
<text x="1690.3" y="834.9" font-size="27">1.0</text>
<text x="1303.5" y="628.7" font-size="27" text-anchor="end">1.5</text>
<text x="1690.3" y="793.4" font-size="27">1.5</text>
<text x="1303.5" y="587.8" font-size="27" text-anchor="end">2.0</text>
<text x="1690.3" y="751.8" font-size="27">2.0</text>
<text x="1303.5" y="546.8" font-size="27" text-anchor="end">2.5</text>
<text x="1690.3" y="710.2" font-size="27">2.5</text>
<text x="1326.1" y="878.6" font-size="27" text-anchor="middle">0</text>
<text x="1412.6" y="878.6" font-size="27" text-anchor="middle">1</text>
<text x="1499.1" y="878.6" font-size="27" text-anchor="middle">2</text>
<text x="1585.6" y="878.6" font-size="27" text-anchor="middle">3</text>
<text x="1672.1" y="878.6" font-size="27" text-anchor="middle">4</text>
<text x="1485" y="918.4" font-size="31" font-style="italic" font-family="'Liberation Serif', serif">t</text>
<text x="1503.6" y="918.4" font-size="29">(s)</text>
<text transform="translate(1249.8 652.3) rotate(-90)" font-size="27.5"><tspan font-family="'Liberation Serif', serif" font-style="italic" font-size="26.5" letter-spacing="3.1">I/I</tspan><tspan font-family="'Liberation Serif', serif" font-size="19.1" dy="4.2">0</tspan><tspan dy="-4.2" font-size="1"> </tspan><tspan dx="5.5"> (a.u.)</tspan></text>
<text transform="translate(1760.3 818.5) rotate(-90)" font-size="28.3"><tspan font-family="'Liberation Serif', serif" font-style="italic" font-size="27" letter-spacing="3.1">I/I</tspan><tspan font-family="'Liberation Serif', serif" font-size="19.4" dy="4.3">0</tspan><tspan dy="-4.3" font-size="1"> </tspan><tspan dx="5.5"> (a.u.)</tspan></text>
<text x="1337.4" y="553.1" font-size="27" font-weight="bold">Light on</text>
<path d="M1424.3 565.8L1449.3 635.4M1451.1 626.9L1450 637.3L1442.5 630" fill="none" stroke="#000" stroke-width="2.9" stroke-linejoin="miter" stroke-miterlimit="8"/>
<text x="1495.5" y="727.7" font-size="27" font-weight="bold">Light off</text>
<path d="M1489.9 717.4L1434.8 693.4M1439.8 700.6L1433 692.6L1443.5 692.2" fill="none" stroke="#000" stroke-width="2.9" stroke-linejoin="miter" stroke-miterlimit="8"/>
<text transform="translate(1178 511.3) scale(1.05 1)" font-size="37" font-weight="bold">(f)</text>
</g>
</svg>
</body>
</html>
